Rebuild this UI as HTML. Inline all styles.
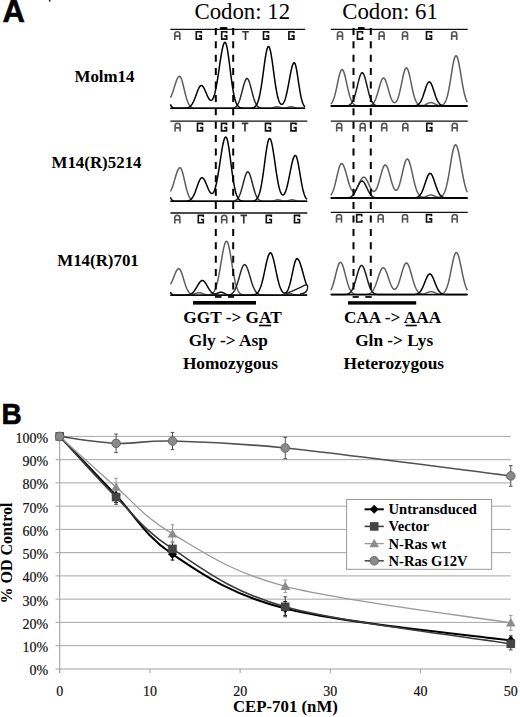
<!DOCTYPE html>
<html><head><meta charset="utf-8"><style>
html,body{margin:0;padding:0;background:#fff;}
svg{display:block;}
.bl{font-family:"Liberation Mono",monospace;font-weight:bold;font-size:10px;text-anchor:middle;}
.ax{font-family:"Liberation Serif",serif;font-size:14px;fill:#111;stroke:#111;stroke-width:0.2px;}
.axt{font-family:"Liberation Serif",serif;font-weight:bold;font-size:16.8px;fill:#000;}
.ayt{font-family:"Liberation Serif",serif;font-weight:bold;font-size:16px;fill:#000;}
.lg{font-family:"Liberation Serif",serif;font-weight:bold;font-size:14.6px;fill:#000;}
.lab2{font-family:"Liberation Serif",serif;font-weight:bold;font-size:17.3px;fill:#000;}
.lab{font-family:"Liberation Serif",serif;font-weight:bold;font-size:16.9px;fill:#000;}
.cod{font-family:"Liberation Serif",serif;font-size:22.8px;fill:#000;}
.pl{font-family:"Liberation Sans",sans-serif;font-weight:bold;font-size:30px;fill:#000;stroke:#000;stroke-width:0.6px;}
</style></head><body>
<svg width="520" height="717" viewBox="0 0 520 717">
<rect width="520" height="717" fill="#fff"/>
<text x="2.4" y="21.5" class="pl" style="font-size:31px">A</text>
<text transform="translate(1.6,423.9) scale(0.95,1)" class="pl" style="font-size:29.5px">B</text>
<circle cx="49.7" cy="0.8" r="0.9" fill="#222"/>
<text x="242.3" y="19.2" class="cod" text-anchor="middle">Codon: 12</text>
<text x="390" y="19.2" class="cod" text-anchor="middle">Codon: 61</text>
<text x="104.5" y="82.1" class="lab" text-anchor="middle">Molm14</text>
<text x="96.5" y="168.1" class="lab" text-anchor="middle">M14(R)5214</text>
<text x="98" y="265.8" class="lab" text-anchor="middle">M14(R)701</text>
<text x="232.55" y="323.3" class="lab2" text-anchor="middle">GGT -&gt; GAT</text>
<text x="228.3" y="346.2" class="lab2" text-anchor="middle">Gly -&gt; Asp</text>
<text x="230.4" y="369.0" class="lab2" text-anchor="middle">Homozygous</text>
<text x="392.5" y="323.3" class="lab2" text-anchor="middle">CAA -&gt; AAA</text>
<text x="394.2" y="346.2" class="lab2" text-anchor="middle">Gln -&gt; Lys</text>
<text x="393.8" y="369.0" class="lab2" text-anchor="middle">Heterozygous</text>
<line x1="258.8" y1="325.5" x2="271" y2="325.5" stroke="#000" stroke-width="1.6"/>
<line x1="405.5" y1="325.5" x2="416.8" y2="325.5" stroke="#000" stroke-width="1.6"/>
<line x1="170.4" y1="29.4" x2="305.2" y2="29.4" stroke="#111" stroke-width="1.3"/>
<path transform="translate(174.00,30.90)" d="M0.8,9 V3 Q0.8,0.8 3.3,0.8 Q5.8,0.8 5.8,3 V9 M0.8,5.2 H5.8" fill="none" stroke="#555" stroke-width="1.65"/>
<path transform="translate(195.50,30.90)" d="M5.8,2.4 V0.8 H0.8 V8.2 H5.8 V5 H3.4" fill="none" stroke="#111" stroke-width="1.65"/>
<path transform="translate(220.90,30.90)" d="M5.8,2.4 V0.8 H0.8 V8.2 H5.8 V5 H3.4" fill="none" stroke="#111" stroke-width="1.65"/>
<path transform="translate(242.20,30.90)" d="M0,0.8 H6.6 M3.3,0.8 V9" fill="none" stroke="#333" stroke-width="1.65"/>
<path transform="translate(262.70,30.90)" d="M5.8,2.4 V0.8 H0.8 V8.2 H5.8 V5 H3.4" fill="none" stroke="#111" stroke-width="1.65"/>
<path transform="translate(288.10,30.90)" d="M5.8,2.4 V0.8 H0.8 V8.2 H5.8 V5 H3.4" fill="none" stroke="#111" stroke-width="1.65"/>
<path d="M170.40,97.53 L170.90,96.65 L171.40,95.61 L171.90,94.42 L172.40,93.09 L172.90,91.65 L173.40,90.11 L173.90,88.52 L174.40,86.89 L174.90,85.27 L175.40,83.69 L175.90,82.18 L176.40,80.78 L176.90,79.53 L177.40,78.44 L177.90,77.56 L178.40,76.90 L178.90,76.48 L179.40,76.30 L179.90,76.42 L180.40,76.90 L180.90,77.75 L181.40,78.92 L181.90,80.37 L182.40,82.07 L182.90,83.95 L183.40,85.96 L183.90,88.05 L184.40,90.16 L184.90,92.23 L185.40,94.24 L185.90,96.14 L186.40,97.91 L186.90,99.53 L187.40,100.98 L187.90,102.26 L188.40,103.38 L188.90,104.33 L189.40,105.14 L189.90,105.82 L190.40,106.37 L190.90,106.82 L191.40,107.17 L191.90,107.45 L192.40,107.67 L192.90,107.84 L193.40,107.97 L193.90,108.06 L194.40,108.13 L194.90,108.18 L195.40,108.22 L195.90,108.24 L196.40,108.26 L196.90,108.27 L197.40,108.28 L197.90,108.29 L198.40,108.29 L198.90,108.30 L199.40,108.30 L199.90,108.30 L200.40,108.30 L200.90,108.30 L201.40,108.30 L201.90,108.30 L202.40,108.30 L202.90,108.30 L203.40,108.30 L203.90,108.30 L204.40,108.30 L204.90,108.30 L205.40,108.30 L205.90,108.30 L206.40,108.30 L206.90,108.30 L207.40,108.30 L207.90,108.30 L208.40,108.30 L208.90,108.30 L209.40,108.30 L209.90,108.30 L210.40,108.30 L210.90,108.30 L211.40,108.30 L211.90,108.30 L212.40,108.30 L212.90,108.30 L213.40,108.30 L213.90,108.30 L214.40,108.30 L214.90,108.30 L215.40,108.30 L215.90,108.30 L216.40,108.30 L216.90,108.30 L217.40,108.30 L217.90,108.30 L218.40,108.30 L218.90,108.30 L219.40,108.30 L219.90,108.30 L220.40,108.30 L220.90,108.30 L221.40,108.30 L221.90,108.30 L222.40,108.30 L222.90,108.30 L223.40,108.30 L223.90,108.30 L224.40,108.30 L224.90,108.30 L225.40,108.30 L225.90,108.30 L226.40,108.30 L226.90,108.30 L227.40,108.30 L227.90,108.30 L228.40,108.30 L228.90,108.30 L229.40,108.30 L229.90,108.30 L230.40,108.30 L230.90,108.30 L231.40,108.30 L231.90,108.30 L232.40,108.30 L232.90,108.30 L233.40,108.30 L233.90,108.30 L234.40,108.30 L234.90,108.30 L235.40,108.30 L235.90,108.30 L236.40,108.30 L236.90,108.30 L237.40,108.30 L237.90,108.30 L238.40,108.30 L238.90,108.30 L239.40,108.30 L239.90,108.30 L240.40,108.30 L240.90,108.30 L241.40,108.30 L241.90,108.30 L242.40,108.30 L242.90,108.30 L243.40,108.30 L243.90,108.30 L244.40,108.30 L244.90,108.30 L245.40,108.30 L245.90,108.30 L246.40,108.30 L246.90,108.30 L247.40,108.30 L247.90,108.30 L248.40,108.30 L248.90,108.30 L249.40,108.30 L249.90,108.30 L250.40,108.30 L250.90,108.30 L251.40,108.30 L251.90,108.30 L252.40,108.30 L252.90,108.30 L253.40,108.30 L253.90,108.30 L254.40,108.30 L254.90,108.30 L255.40,108.30 L255.90,108.30 L256.40,108.30 L256.90,108.30 L257.40,108.30 L257.90,108.30 L258.40,108.30 L258.90,108.30 L259.40,108.30 L259.90,108.30 L260.40,108.30 L260.90,108.30 L261.40,108.30 L261.90,108.30 L262.40,108.30 L262.90,108.30 L263.40,108.30 L263.90,108.30 L264.40,108.30 L264.90,108.30 L265.40,108.30 L265.90,108.30 L266.40,108.30 L266.90,108.29 L267.40,108.29 L267.90,108.28 L268.40,108.27 L268.90,108.26 L269.40,108.24 L269.90,108.20 L270.40,108.16 L270.90,108.10 L271.40,108.02 L271.90,107.92 L272.40,107.81 L272.90,107.67 L273.40,107.52 L273.90,107.36 L274.40,107.20 L274.90,107.05 L275.40,106.91 L275.90,106.80 L276.40,106.73 L276.90,106.70 L277.40,106.71 L277.90,106.77 L278.40,106.86 L278.90,106.99 L279.40,107.14 L279.90,107.30 L280.40,107.46 L280.90,107.61 L281.40,107.74 L281.90,107.86 L282.40,107.96 L282.90,108.03 L283.40,108.07 L283.90,108.09 L284.40,108.08 L284.90,108.05 L285.40,107.99 L285.90,107.90 L286.40,107.79 L286.90,107.66 L287.40,107.52 L287.90,107.36 L288.40,107.20 L288.90,107.05 L289.40,106.91 L289.90,106.80 L290.40,106.73 L290.90,106.70 L291.40,106.71 L291.90,106.77 L292.40,106.87 L292.90,106.99 L293.40,107.14 L293.90,107.30 L294.40,107.46 L294.90,107.61 L295.40,107.75 L295.90,107.88 L296.40,107.98 L296.90,108.07 L297.40,108.14 L297.90,108.19 L298.40,108.22 L298.90,108.25 L299.40,108.27 L299.90,108.28 L300.40,108.29 L300.90,108.29 L301.40,108.30 L301.90,108.30 L302.40,108.30 L302.90,108.30 L303.40,108.30 L303.90,108.30 L304.40,108.30 L304.90,108.30" fill="none" stroke="#5e5e5e" stroke-width="1.5" stroke-linejoin="round"/>
<path d="M170.40,108.30 L170.90,108.30 L171.40,108.30 L171.90,108.30 L172.40,108.30 L172.90,108.30 L173.40,108.30 L173.90,108.30 L174.40,108.30 L174.90,108.30 L175.40,108.30 L175.90,108.30 L176.40,108.30 L176.90,108.30 L177.40,108.30 L177.90,108.30 L178.40,108.30 L178.90,108.30 L179.40,108.30 L179.90,108.30 L180.40,108.30 L180.90,108.30 L181.40,108.30 L181.90,108.30 L182.40,108.30 L182.90,108.30 L183.40,108.30 L183.90,108.30 L184.40,108.30 L184.90,108.30 L185.40,108.30 L185.90,108.30 L186.40,108.30 L186.90,108.30 L187.40,108.30 L187.90,108.30 L188.40,108.30 L188.90,108.30 L189.40,108.30 L189.90,108.30 L190.40,108.30 L190.90,108.30 L191.40,108.30 L191.90,108.30 L192.40,108.30 L192.90,108.30 L193.40,108.30 L193.90,108.30 L194.40,108.30 L194.90,108.30 L195.40,108.30 L195.90,108.30 L196.40,108.30 L196.90,108.30 L197.40,108.30 L197.90,108.30 L198.40,108.30 L198.90,108.30 L199.40,108.30 L199.90,108.30 L200.40,108.30 L200.90,108.30 L201.40,108.30 L201.90,108.30 L202.40,108.30 L202.90,108.30 L203.40,108.30 L203.90,108.30 L204.40,108.30 L204.90,108.30 L205.40,108.30 L205.90,108.30 L206.40,108.30 L206.90,108.30 L207.40,108.30 L207.90,108.30 L208.40,108.30 L208.90,108.30 L209.40,108.30 L209.90,108.30 L210.40,108.30 L210.90,108.30 L211.40,108.30 L211.90,108.30 L212.40,108.30 L212.90,108.30 L213.40,108.30 L213.90,108.30 L214.40,108.30 L214.90,108.30 L215.40,108.30 L215.90,108.30 L216.40,108.30 L216.90,108.30 L217.40,108.30 L217.90,108.30 L218.40,108.30 L218.90,108.30 L219.40,108.30 L219.90,108.30 L220.40,108.30 L220.90,108.30 L221.40,108.30 L221.90,108.30 L222.40,108.30 L222.90,108.30 L223.40,108.30 L223.90,108.30 L224.40,108.30 L224.90,108.30 L225.40,108.30 L225.90,108.30 L226.40,108.30 L226.90,108.30 L227.40,108.30 L227.90,108.29 L228.40,108.29 L228.90,108.29 L229.40,108.28 L229.90,108.27 L230.40,108.26 L230.90,108.23 L231.40,108.21 L231.90,108.16 L232.40,108.11 L232.90,108.03 L233.40,107.92 L233.90,107.78 L234.40,107.60 L234.90,107.36 L235.40,107.06 L235.90,106.68 L236.40,106.21 L236.90,105.62 L237.40,104.92 L237.90,104.09 L238.40,103.11 L238.90,101.98 L239.40,100.69 L239.90,99.24 L240.40,97.65 L240.90,95.93 L241.40,94.10 L241.90,92.18 L242.40,90.23 L242.90,88.27 L243.40,86.36 L243.90,84.55 L244.40,82.90 L244.90,81.45 L245.40,80.25 L245.90,79.34 L246.40,78.75 L246.90,78.51 L247.40,78.61 L247.90,79.06 L248.40,79.85 L248.90,80.94 L249.40,82.29 L249.90,83.87 L250.40,85.62 L250.90,87.50 L251.40,89.44 L251.90,91.40 L252.40,93.34 L252.90,95.21 L253.40,96.98 L253.90,98.63 L254.40,100.13 L254.90,101.48 L255.40,102.68 L255.90,103.71 L256.40,104.61 L256.90,105.36 L257.40,105.99 L257.90,106.50 L258.40,106.92 L258.90,107.25 L259.40,107.51 L259.90,107.72 L260.40,107.87 L260.90,107.99 L261.40,108.08 L261.90,108.14 L262.40,108.19 L262.90,108.22 L263.40,108.25 L263.90,108.27 L264.40,108.28 L264.90,108.28 L265.40,108.29 L265.90,108.29 L266.40,108.30 L266.90,108.30 L267.40,108.30 L267.90,108.30 L268.40,108.30 L268.90,108.30 L269.40,108.30 L269.90,108.30 L270.40,108.30 L270.90,108.30 L271.40,108.30 L271.90,108.30 L272.40,108.30 L272.90,108.30 L273.40,108.30 L273.90,108.30 L274.40,108.30 L274.90,108.30 L275.40,108.30 L275.90,108.30 L276.40,108.30 L276.90,108.30 L277.40,108.30 L277.90,108.30 L278.40,108.30 L278.90,108.30 L279.40,108.30 L279.90,108.30 L280.40,108.30 L280.90,108.30 L281.40,108.30 L281.90,108.30 L282.40,108.30 L282.90,108.30 L283.40,108.30 L283.90,108.30 L284.40,108.30 L284.90,108.30 L285.40,108.30 L285.90,108.30 L286.40,108.30 L286.90,108.30 L287.40,108.30 L287.90,108.30 L288.40,108.30 L288.90,108.30 L289.40,108.30 L289.90,108.30 L290.40,108.30 L290.90,108.30 L291.40,108.30 L291.90,108.30 L292.40,108.30 L292.90,108.30 L293.40,108.30 L293.90,108.30 L294.40,108.30 L294.90,108.30 L295.40,108.30 L295.90,108.30 L296.40,108.30 L296.90,108.30 L297.40,108.30 L297.90,108.30 L298.40,108.30 L298.90,108.30 L299.40,108.30 L299.90,108.30 L300.40,108.30 L300.90,108.30 L301.40,108.30 L301.90,108.30 L302.40,108.30 L302.90,108.30 L303.40,108.30 L303.90,108.30 L304.40,108.30 L304.90,108.30" fill="none" stroke="#2a2a2a" stroke-width="1.5" stroke-linejoin="round"/>
<path d="M170.40,104.34 L170.90,105.41 L171.40,106.25 L171.90,106.88 L172.40,107.35 L172.90,107.68 L173.40,107.90 L173.90,108.05 L174.40,108.15 L174.90,108.21 L175.40,108.25 L175.90,108.27 L176.40,108.29 L176.90,108.29 L177.40,108.30 L177.90,108.30 L178.40,108.30 L178.90,108.30 L179.40,108.30 L179.90,108.30 L180.40,108.30 L180.90,108.29 L181.40,108.29 L181.90,108.29 L182.40,108.28 L182.90,108.27 L183.40,108.26 L183.90,108.25 L184.40,108.22 L184.90,108.19 L185.40,108.15 L185.90,108.10 L186.40,108.03 L186.90,107.94 L187.40,107.82 L187.90,107.67 L188.40,107.48 L188.90,107.25 L189.40,106.96 L189.90,106.61 L190.40,106.18 L190.90,105.68 L191.40,105.09 L191.90,104.41 L192.40,103.62 L192.90,102.74 L193.40,101.76 L193.90,100.67 L194.40,99.50 L194.90,98.25 L195.40,96.93 L195.90,95.57 L196.40,94.19 L196.90,92.82 L197.40,91.48 L197.90,90.21 L198.40,89.03 L198.90,87.98 L199.40,87.08 L199.90,86.37 L200.40,85.86 L200.90,85.56 L201.40,85.49 L201.90,85.62 L202.40,85.95 L202.90,86.47 L203.40,87.16 L203.90,88.00 L204.40,88.96 L204.90,90.03 L205.40,91.18 L205.90,92.36 L206.40,93.56 L206.90,94.75 L207.40,95.88 L207.90,96.94 L208.40,97.91 L208.90,98.74 L209.40,99.44 L209.90,99.96 L210.40,100.30 L210.90,100.44 L211.40,100.37 L211.90,100.06 L212.40,99.52 L212.90,98.73 L213.40,97.68 L213.90,96.38 L214.40,94.80 L214.90,92.96 L215.40,90.86 L215.90,88.51 L216.40,85.92 L216.90,83.11 L217.40,80.10 L217.90,76.93 L218.40,73.63 L218.90,70.25 L219.40,66.82 L219.90,63.41 L220.40,60.08 L220.90,56.87 L221.40,53.85 L221.90,51.07 L222.40,48.60 L222.90,46.48 L223.40,44.76 L223.90,43.47 L224.40,42.65 L224.90,42.31 L225.40,42.51 L225.90,43.36 L226.40,44.84 L226.90,46.90 L227.40,49.48 L227.90,52.52 L228.40,55.92 L228.90,59.61 L229.40,63.49 L229.90,67.47 L230.40,71.46 L230.90,75.40 L231.40,79.21 L231.90,82.83 L232.40,86.22 L232.90,89.36 L233.40,92.21 L233.90,94.76 L234.40,97.03 L234.90,99.01 L235.40,100.71 L235.90,102.17 L236.40,103.39 L236.90,104.41 L237.40,105.25 L237.90,105.93 L238.40,106.48 L238.90,106.92 L239.40,107.26 L239.90,107.52 L240.40,107.73 L240.90,107.88 L241.40,108.00 L241.90,108.08 L242.40,108.15 L242.90,108.19 L243.40,108.22 L243.90,108.25 L244.40,108.26 L244.90,108.28 L245.40,108.28 L245.90,108.29 L246.40,108.29 L246.90,108.29 L247.40,108.29 L247.90,108.29 L248.40,108.28 L248.90,108.27 L249.40,108.26 L249.90,108.24 L250.40,108.21 L250.90,108.17 L251.40,108.12 L251.90,108.05 L252.40,107.95 L252.90,107.82 L253.40,107.65 L253.90,107.43 L254.40,107.14 L254.90,106.77 L255.40,106.30 L255.90,105.72 L256.40,104.99 L256.90,104.11 L257.40,103.04 L257.90,101.77 L258.40,100.27 L258.90,98.52 L259.40,96.50 L259.90,94.22 L260.40,91.66 L260.90,88.83 L261.40,85.75 L261.90,82.44 L262.40,78.94 L262.90,75.29 L263.40,71.57 L263.90,67.82 L264.40,64.15 L264.90,60.61 L265.40,57.31 L265.90,54.32 L266.40,51.72 L266.90,49.58 L267.40,47.98 L267.90,46.94 L268.40,46.51 L268.90,46.70 L269.40,47.49 L269.90,48.88 L270.40,50.80 L270.90,53.22 L271.40,56.07 L271.90,59.25 L272.40,62.71 L272.90,66.34 L273.40,70.06 L273.90,73.80 L274.40,77.48 L274.90,81.03 L275.40,84.41 L275.90,87.57 L276.40,90.48 L276.90,93.12 L277.40,95.46 L277.90,97.52 L278.40,99.29 L278.90,100.77 L279.40,101.99 L279.90,102.94 L280.40,103.65 L280.90,104.12 L281.40,104.36 L281.90,104.38 L282.40,104.19 L282.90,103.78 L283.40,103.15 L283.90,102.30 L284.40,101.23 L284.90,99.93 L285.40,98.41 L285.90,96.66 L286.40,94.69 L286.90,92.52 L287.40,90.17 L287.90,87.65 L288.40,85.01 L288.90,82.28 L289.40,79.53 L289.90,76.79 L290.40,74.13 L290.90,71.62 L291.40,69.32 L291.90,67.28 L292.40,65.56 L292.90,64.22 L293.40,63.28 L293.90,62.78 L294.40,62.75 L294.90,63.36 L295.40,64.61 L295.90,66.46 L296.40,68.81 L296.90,71.59 L297.40,74.67 L297.90,77.95 L298.40,81.32 L298.90,84.66 L299.40,87.90 L299.90,90.95 L300.40,93.77 L300.90,96.30 L301.40,98.54 L301.90,100.48 L302.40,102.13 L302.90,103.50 L303.40,104.62 L303.90,105.52 L304.40,106.23 L304.90,106.79" fill="none" stroke="#000" stroke-width="1.5" stroke-linejoin="round"/>
<line x1="170.4" y1="108.3" x2="305.2" y2="108.3" stroke="#000" stroke-width="1.3"/>
<line x1="170.4" y1="121.1" x2="307.3" y2="121.1" stroke="#111" stroke-width="1.3"/>
<path transform="translate(174.30,122.60)" d="M0.8,9 V3 Q0.8,0.8 3.3,0.8 Q5.8,0.8 5.8,3 V9 M0.8,5.2 H5.8" fill="none" stroke="#555" stroke-width="1.65"/>
<path transform="translate(196.70,122.60)" d="M5.8,2.4 V0.8 H0.8 V8.2 H5.8 V5 H3.4" fill="none" stroke="#111" stroke-width="1.65"/>
<path transform="translate(220.70,122.60)" d="M5.8,2.4 V0.8 H0.8 V8.2 H5.8 V5 H3.4" fill="none" stroke="#111" stroke-width="1.65"/>
<path transform="translate(241.70,122.60)" d="M0,0.8 H6.6 M3.3,0.8 V9" fill="none" stroke="#333" stroke-width="1.65"/>
<path transform="translate(264.70,122.60)" d="M5.8,2.4 V0.8 H0.8 V8.2 H5.8 V5 H3.4" fill="none" stroke="#111" stroke-width="1.65"/>
<path transform="translate(290.20,122.60)" d="M5.8,2.4 V0.8 H0.8 V8.2 H5.8 V5 H3.4" fill="none" stroke="#111" stroke-width="1.65"/>
<path d="M170.40,191.35 L170.90,190.52 L171.40,189.52 L171.90,188.36 L172.40,187.04 L172.90,185.59 L173.40,184.02 L173.90,182.36 L174.40,180.65 L174.90,178.91 L175.40,177.18 L175.90,175.50 L176.40,173.91 L176.90,172.43 L177.40,171.10 L177.90,169.96 L178.40,169.03 L178.90,168.33 L179.40,167.89 L179.90,167.70 L180.40,167.83 L180.90,168.34 L181.40,169.22 L181.90,170.45 L182.40,171.98 L182.90,173.76 L183.40,175.73 L183.90,177.84 L184.40,180.04 L184.90,182.25 L185.40,184.43 L185.90,186.54 L186.40,188.54 L186.90,190.39 L187.40,192.09 L187.90,193.61 L188.40,194.96 L188.90,196.13 L189.40,197.14 L189.90,197.98 L190.40,198.69 L190.90,199.27 L191.40,199.74 L191.90,200.12 L192.40,200.41 L192.90,200.64 L193.40,200.82 L193.90,200.95 L194.40,201.05 L194.90,201.12 L195.40,201.18 L195.90,201.21 L196.40,201.24 L196.90,201.26 L197.40,201.27 L197.90,201.28 L198.40,201.29 L198.90,201.29 L199.40,201.30 L199.90,201.30 L200.40,201.30 L200.90,201.30 L201.40,201.30 L201.90,201.30 L202.40,201.30 L202.90,201.30 L203.40,201.30 L203.90,201.30 L204.40,201.30 L204.90,201.30 L205.40,201.30 L205.90,201.30 L206.40,201.30 L206.90,201.30 L207.40,201.30 L207.90,201.30 L208.40,201.30 L208.90,201.30 L209.40,201.30 L209.90,201.30 L210.40,201.30 L210.90,201.30 L211.40,201.30 L211.90,201.30 L212.40,201.30 L212.90,201.30 L213.40,201.30 L213.90,201.30 L214.40,201.30 L214.90,201.30 L215.40,201.30 L215.90,201.30 L216.40,201.30 L216.90,201.30 L217.40,201.30 L217.90,201.30 L218.40,201.30 L218.90,201.30 L219.40,201.30 L219.90,201.30 L220.40,201.30 L220.90,201.30 L221.40,201.30 L221.90,201.30 L222.40,201.30 L222.90,201.30 L223.40,201.30 L223.90,201.30 L224.40,201.30 L224.90,201.30 L225.40,201.30 L225.90,201.30 L226.40,201.30 L226.90,201.30 L227.40,201.30 L227.90,201.30 L228.40,201.30 L228.90,201.30 L229.40,201.30 L229.90,201.30 L230.40,201.30 L230.90,201.30 L231.40,201.30 L231.90,201.30 L232.40,201.30 L232.90,201.30 L233.40,201.30 L233.90,201.30 L234.40,201.30 L234.90,201.30 L235.40,201.30 L235.90,201.30 L236.40,201.30 L236.90,201.30 L237.40,201.30 L237.90,201.30 L238.40,201.30 L238.90,201.30 L239.40,201.30 L239.90,201.30 L240.40,201.30 L240.90,201.30 L241.40,201.30 L241.90,201.30 L242.40,201.30 L242.90,201.30 L243.40,201.30 L243.90,201.30 L244.40,201.30 L244.90,201.30 L245.40,201.30 L245.90,201.30 L246.40,201.30 L246.90,201.30 L247.40,201.30 L247.90,201.30 L248.40,201.30 L248.90,201.30 L249.40,201.30 L249.90,201.30 L250.40,201.30 L250.90,201.30 L251.40,201.30 L251.90,201.30 L252.40,201.30 L252.90,201.30 L253.40,201.30 L253.90,201.30 L254.40,201.30 L254.90,201.30 L255.40,201.30 L255.90,201.30 L256.40,201.30 L256.90,201.30 L257.40,201.30 L257.90,201.30 L258.40,201.30 L258.90,201.30 L259.40,201.30 L259.90,201.30 L260.40,201.30 L260.90,201.30 L261.40,201.30 L261.90,201.30 L262.40,201.30 L262.90,201.30 L263.40,201.30 L263.90,201.30 L264.40,201.30 L264.90,201.30 L265.40,201.30 L265.90,201.30 L266.40,201.30 L266.90,201.30 L267.40,201.30 L267.90,201.29 L268.40,201.29 L268.90,201.28 L269.40,201.28 L269.90,201.26 L270.40,201.24 L270.90,201.21 L271.40,201.17 L271.90,201.11 L272.40,201.04 L272.90,200.95 L273.40,200.84 L273.90,200.71 L274.40,200.57 L274.90,200.42 L275.40,200.27 L275.90,200.13 L276.40,200.00 L276.90,199.90 L277.40,199.83 L277.90,199.80 L278.40,199.81 L278.90,199.87 L279.40,199.95 L279.90,200.07 L280.40,200.21 L280.90,200.36 L281.40,200.51 L281.90,200.65 L282.40,200.78 L282.90,200.89 L283.40,200.98 L283.90,201.04 L284.40,201.09 L284.90,201.10 L285.40,201.10 L285.90,201.06 L286.40,201.01 L286.90,200.93 L287.40,200.83 L287.90,200.70 L288.40,200.57 L288.90,200.42 L289.40,200.27 L289.90,200.13 L290.40,200.00 L290.90,199.90 L291.40,199.83 L291.90,199.80 L292.40,199.81 L292.90,199.87 L293.40,199.95 L293.90,200.07 L294.40,200.21 L294.90,200.36 L295.40,200.51 L295.90,200.66 L296.40,200.79 L296.90,200.90 L297.40,201.00 L297.90,201.08 L298.40,201.15 L298.90,201.19 L299.40,201.23 L299.90,201.25 L300.40,201.27 L300.90,201.28 L301.40,201.29 L301.90,201.29 L302.40,201.30 L302.90,201.30 L303.40,201.30 L303.90,201.30 L304.40,201.30 L304.90,201.30 L305.40,201.30 L305.90,201.30 L306.40,201.30 L306.90,201.30" fill="none" stroke="#5e5e5e" stroke-width="1.5" stroke-linejoin="round"/>
<path d="M170.40,201.30 L170.90,201.30 L171.40,201.30 L171.90,201.30 L172.40,201.30 L172.90,201.30 L173.40,201.30 L173.90,201.30 L174.40,201.30 L174.90,201.30 L175.40,201.30 L175.90,201.30 L176.40,201.30 L176.90,201.30 L177.40,201.30 L177.90,201.30 L178.40,201.30 L178.90,201.30 L179.40,201.30 L179.90,201.30 L180.40,201.30 L180.90,201.30 L181.40,201.30 L181.90,201.30 L182.40,201.30 L182.90,201.30 L183.40,201.30 L183.90,201.30 L184.40,201.30 L184.90,201.30 L185.40,201.30 L185.90,201.30 L186.40,201.30 L186.90,201.30 L187.40,201.30 L187.90,201.30 L188.40,201.30 L188.90,201.30 L189.40,201.30 L189.90,201.30 L190.40,201.30 L190.90,201.30 L191.40,201.30 L191.90,201.30 L192.40,201.30 L192.90,201.30 L193.40,201.30 L193.90,201.30 L194.40,201.30 L194.90,201.30 L195.40,201.30 L195.90,201.30 L196.40,201.30 L196.90,201.30 L197.40,201.30 L197.90,201.30 L198.40,201.30 L198.90,201.30 L199.40,201.30 L199.90,201.30 L200.40,201.30 L200.90,201.30 L201.40,201.30 L201.90,201.30 L202.40,201.30 L202.90,201.30 L203.40,201.30 L203.90,201.30 L204.40,201.30 L204.90,201.30 L205.40,201.30 L205.90,201.30 L206.40,201.30 L206.90,201.30 L207.40,201.30 L207.90,201.30 L208.40,201.30 L208.90,201.30 L209.40,201.30 L209.90,201.30 L210.40,201.30 L210.90,201.30 L211.40,201.30 L211.90,201.30 L212.40,201.30 L212.90,201.30 L213.40,201.30 L213.90,201.30 L214.40,201.30 L214.90,201.30 L215.40,201.30 L215.90,201.30 L216.40,201.30 L216.90,201.30 L217.40,201.30 L217.90,201.30 L218.40,201.30 L218.90,201.30 L219.40,201.30 L219.90,201.30 L220.40,201.30 L220.90,201.30 L221.40,201.30 L221.90,201.30 L222.40,201.30 L222.90,201.30 L223.40,201.30 L223.90,201.30 L224.40,201.30 L224.90,201.30 L225.40,201.30 L225.90,201.30 L226.40,201.30 L226.90,201.30 L227.40,201.30 L227.90,201.30 L228.40,201.30 L228.90,201.29 L229.40,201.29 L229.90,201.28 L230.40,201.28 L230.90,201.27 L231.40,201.25 L231.90,201.22 L232.40,201.19 L232.90,201.14 L233.40,201.08 L233.90,200.99 L234.40,200.88 L234.90,200.72 L235.40,200.52 L235.90,200.26 L236.40,199.93 L236.90,199.52 L237.40,199.01 L237.90,198.39 L238.40,197.64 L238.90,196.76 L239.40,195.73 L239.90,194.55 L240.40,193.21 L240.90,191.72 L241.40,190.09 L241.90,188.34 L242.40,186.49 L242.90,184.57 L243.40,182.63 L243.90,180.71 L244.40,178.85 L244.90,177.12 L245.40,175.55 L245.90,174.21 L246.40,173.14 L246.90,172.36 L247.40,171.91 L247.90,171.81 L248.40,172.05 L248.90,172.63 L249.40,173.53 L249.90,174.72 L250.40,176.16 L250.90,177.79 L251.40,179.58 L251.90,181.47 L252.40,183.41 L252.90,185.34 L253.40,187.24 L253.90,189.05 L254.40,190.76 L254.90,192.34 L255.40,193.77 L255.90,195.04 L256.40,196.16 L256.90,197.13 L257.40,197.96 L257.90,198.65 L258.40,199.23 L258.90,199.70 L259.40,200.07 L259.90,200.37 L260.40,200.61 L260.90,200.79 L261.40,200.93 L261.90,201.03 L262.40,201.11 L262.90,201.17 L263.40,201.21 L263.90,201.24 L264.40,201.26 L264.90,201.27 L265.40,201.28 L265.90,201.29 L266.40,201.29 L266.90,201.29 L267.40,201.30 L267.90,201.30 L268.40,201.30 L268.90,201.30 L269.40,201.30 L269.90,201.30 L270.40,201.30 L270.90,201.30 L271.40,201.30 L271.90,201.30 L272.40,201.30 L272.90,201.30 L273.40,201.30 L273.90,201.30 L274.40,201.30 L274.90,201.30 L275.40,201.30 L275.90,201.30 L276.40,201.30 L276.90,201.30 L277.40,201.30 L277.90,201.30 L278.40,201.30 L278.90,201.30 L279.40,201.30 L279.90,201.30 L280.40,201.30 L280.90,201.30 L281.40,201.30 L281.90,201.30 L282.40,201.30 L282.90,201.30 L283.40,201.30 L283.90,201.30 L284.40,201.30 L284.90,201.30 L285.40,201.30 L285.90,201.30 L286.40,201.30 L286.90,201.30 L287.40,201.30 L287.90,201.30 L288.40,201.30 L288.90,201.30 L289.40,201.30 L289.90,201.30 L290.40,201.30 L290.90,201.30 L291.40,201.30 L291.90,201.30 L292.40,201.30 L292.90,201.30 L293.40,201.30 L293.90,201.30 L294.40,201.30 L294.90,201.30 L295.40,201.30 L295.90,201.30 L296.40,201.30 L296.90,201.30 L297.40,201.30 L297.90,201.30 L298.40,201.30 L298.90,201.30 L299.40,201.30 L299.90,201.30 L300.40,201.30 L300.90,201.30 L301.40,201.30 L301.90,201.30 L302.40,201.30 L302.90,201.30 L303.40,201.30 L303.90,201.30 L304.40,201.30 L304.90,201.30 L305.40,201.30 L305.90,201.30 L306.40,201.30 L306.90,201.30" fill="none" stroke="#2a2a2a" stroke-width="1.5" stroke-linejoin="round"/>
<path d="M170.40,197.34 L170.90,198.41 L171.40,199.25 L171.90,199.88 L172.40,200.35 L172.90,200.68 L173.40,200.90 L173.90,201.05 L174.40,201.15 L174.90,201.21 L175.40,201.25 L175.90,201.27 L176.40,201.29 L176.90,201.29 L177.40,201.30 L177.90,201.30 L178.40,201.30 L178.90,201.30 L179.40,201.30 L179.90,201.30 L180.40,201.30 L180.90,201.30 L181.40,201.30 L181.90,201.29 L182.40,201.29 L182.90,201.28 L183.40,201.28 L183.90,201.27 L184.40,201.25 L184.90,201.23 L185.40,201.20 L185.90,201.17 L186.40,201.12 L186.90,201.05 L187.40,200.97 L187.90,200.86 L188.40,200.72 L188.90,200.54 L189.40,200.31 L189.90,200.04 L190.40,199.70 L190.90,199.29 L191.40,198.81 L191.90,198.23 L192.40,197.56 L192.90,196.80 L193.40,195.92 L193.90,194.95 L194.40,193.87 L194.90,192.69 L195.40,191.42 L195.90,190.09 L196.40,188.70 L196.90,187.27 L197.40,185.84 L197.90,184.44 L198.40,183.09 L198.90,181.83 L199.40,180.68 L199.90,179.69 L200.40,178.87 L200.90,178.26 L201.40,177.86 L201.90,177.69 L202.40,177.75 L202.90,178.01 L203.40,178.47 L203.90,179.12 L204.40,179.93 L204.90,180.88 L205.40,181.96 L205.90,183.12 L206.40,184.34 L206.90,185.59 L207.40,186.84 L207.90,188.05 L208.40,189.20 L208.90,190.27 L209.40,191.22 L209.90,192.03 L210.40,192.68 L210.90,193.17 L211.40,193.45 L211.90,193.54 L212.40,193.40 L212.90,193.03 L213.40,192.42 L213.90,191.57 L214.40,190.45 L214.90,189.08 L215.40,187.45 L215.90,185.56 L216.40,183.42 L216.90,181.04 L217.40,178.42 L217.90,175.61 L218.40,172.61 L218.90,169.47 L219.40,166.21 L219.90,162.89 L220.40,159.56 L220.90,156.26 L221.40,153.05 L221.90,149.99 L222.40,147.14 L222.90,144.55 L223.40,142.27 L223.90,140.35 L224.40,138.84 L224.90,137.77 L225.40,137.15 L225.90,137.01 L226.40,137.46 L226.90,138.54 L227.40,140.21 L227.90,142.43 L228.40,145.13 L228.90,148.24 L229.40,151.68 L229.90,155.36 L230.40,159.19 L230.90,163.08 L231.40,166.96 L231.90,170.75 L232.40,174.39 L232.90,177.84 L233.40,181.05 L233.90,183.99 L234.40,186.65 L234.90,189.03 L235.40,191.12 L235.90,192.94 L236.40,194.50 L236.90,195.83 L237.40,196.94 L237.90,197.86 L238.40,198.61 L238.90,199.22 L239.40,199.71 L239.90,200.09 L240.40,200.39 L240.90,200.63 L241.40,200.81 L241.90,200.94 L242.40,201.04 L242.90,201.11 L243.40,201.17 L243.90,201.21 L244.40,201.24 L244.90,201.26 L245.40,201.27 L245.90,201.28 L246.40,201.29 L246.90,201.29 L247.40,201.29 L247.90,201.29 L248.40,201.29 L248.90,201.29 L249.40,201.28 L249.90,201.27 L250.40,201.26 L250.90,201.24 L251.40,201.22 L251.90,201.18 L252.40,201.13 L252.90,201.06 L253.40,200.97 L253.90,200.85 L254.40,200.68 L254.90,200.47 L255.40,200.19 L255.90,199.83 L256.40,199.37 L256.90,198.81 L257.40,198.10 L257.90,197.24 L258.40,196.19 L258.90,194.94 L259.40,193.46 L259.90,191.73 L260.40,189.74 L260.90,187.48 L261.40,184.93 L261.90,182.11 L262.40,179.03 L262.90,175.71 L263.40,172.19 L263.90,168.51 L264.40,164.73 L264.90,160.93 L265.40,157.17 L265.90,153.54 L266.40,150.13 L266.90,147.02 L267.40,144.29 L267.90,142.03 L268.40,140.28 L268.90,139.11 L269.40,138.55 L269.90,138.60 L270.40,139.18 L270.90,140.29 L271.40,141.89 L271.90,143.94 L272.40,146.39 L272.90,149.19 L273.40,152.26 L273.90,155.54 L274.40,158.97 L274.90,162.47 L275.40,165.97 L275.90,169.43 L276.40,172.78 L276.90,175.98 L277.40,178.99 L277.90,181.77 L278.40,184.31 L278.90,186.59 L279.40,188.60 L279.90,190.33 L280.40,191.78 L280.90,192.96 L281.40,193.86 L281.90,194.50 L282.40,194.87 L282.90,194.99 L283.40,194.85 L283.90,194.47 L284.40,193.85 L284.90,192.98 L285.40,191.88 L285.90,190.55 L286.40,189.00 L286.90,187.24 L287.40,185.28 L287.90,183.15 L288.40,180.86 L288.90,178.45 L289.40,175.96 L289.90,173.41 L290.40,170.85 L290.90,168.34 L291.40,165.92 L291.90,163.64 L292.40,161.56 L292.90,159.71 L293.40,158.15 L293.90,156.91 L294.40,156.03 L294.90,155.52 L295.40,155.41 L295.90,155.79 L296.40,156.69 L296.90,158.09 L297.40,159.94 L297.90,162.18 L298.40,164.72 L298.90,167.51 L299.40,170.45 L299.90,173.46 L300.40,176.47 L300.90,179.42 L301.40,182.25 L301.90,184.90 L302.40,187.35 L302.90,189.58 L303.40,191.56 L303.90,193.30 L304.40,194.81 L304.90,196.10 L305.40,197.18 L305.90,198.07 L306.40,198.80 L306.90,199.39" fill="none" stroke="#000" stroke-width="1.5" stroke-linejoin="round"/>
<line x1="170.4" y1="201.3" x2="307.3" y2="201.3" stroke="#000" stroke-width="1.3"/>
<line x1="170.4" y1="213.0" x2="307.3" y2="213.0" stroke="#111" stroke-width="1.3"/>
<path transform="translate(174.00,214.50)" d="M0.8,9 V3 Q0.8,0.8 3.3,0.8 Q5.8,0.8 5.8,3 V9 M0.8,5.2 H5.8" fill="none" stroke="#555" stroke-width="1.65"/>
<path transform="translate(197.50,214.50)" d="M5.8,2.4 V0.8 H0.8 V8.2 H5.8 V5 H3.4" fill="none" stroke="#111" stroke-width="1.65"/>
<path transform="translate(220.90,214.50)" d="M0.8,9 V3 Q0.8,0.8 3.3,0.8 Q5.8,0.8 5.8,3 V9 M0.8,5.2 H5.8" fill="none" stroke="#555" stroke-width="1.65"/>
<path transform="translate(240.50,214.50)" d="M0,0.8 H6.6 M3.3,0.8 V9" fill="none" stroke="#333" stroke-width="1.65"/>
<path transform="translate(265.50,214.50)" d="M5.8,2.4 V0.8 H0.8 V8.2 H5.8 V5 H3.4" fill="none" stroke="#111" stroke-width="1.65"/>
<path transform="translate(293.70,214.50)" d="M5.8,2.4 V0.8 H0.8 V8.2 H5.8 V5 H3.4" fill="none" stroke="#111" stroke-width="1.65"/>
<path d="M170.40,284.37 L170.90,283.60 L171.40,282.69 L171.90,281.66 L172.40,280.53 L172.90,279.31 L173.40,278.05 L173.90,276.75 L174.40,275.47 L174.90,274.21 L175.40,273.02 L175.90,271.93 L176.40,270.96 L176.90,270.14 L177.40,269.49 L177.90,269.02 L178.40,268.76 L178.90,268.70 L179.40,268.90 L179.90,269.38 L180.40,270.13 L180.90,271.12 L181.40,272.32 L181.90,273.69 L182.40,275.20 L182.90,276.80 L183.40,278.46 L183.90,280.13 L184.40,281.78 L184.90,283.38 L185.40,284.90 L185.90,286.31 L186.40,287.62 L186.90,288.79 L187.40,289.84 L187.90,290.75 L188.40,291.54 L188.90,292.20 L189.40,292.75 L189.90,293.18 L190.40,293.52 L190.90,293.77 L191.40,293.94 L191.90,294.04 L192.40,294.08 L192.90,294.06 L193.40,294.00 L193.90,293.90 L194.40,293.77 L194.90,293.63 L195.40,293.47 L195.90,293.30 L196.40,293.14 L196.90,293.00 L197.40,292.88 L197.90,292.78 L198.40,292.72 L198.90,292.70 L199.40,292.71 L199.90,292.76 L200.40,292.85 L200.90,292.97 L201.40,293.11 L201.90,293.28 L202.40,293.46 L202.90,293.64 L203.40,293.83 L203.90,294.01 L204.40,294.18 L204.90,294.34 L205.40,294.48 L205.90,294.60 L206.40,294.70 L206.90,294.77 L207.40,294.82 L207.90,294.85 L208.40,294.85 L208.90,294.82 L209.40,294.76 L209.90,294.66 L210.40,294.52 L210.90,294.34 L211.40,294.10 L211.90,293.79 L212.40,293.40 L212.90,292.93 L213.40,292.35 L213.90,291.65 L214.40,290.81 L214.90,289.82 L215.40,288.67 L215.90,287.34 L216.40,285.81 L216.90,284.08 L217.40,282.15 L217.90,280.01 L218.40,277.67 L218.90,275.14 L219.40,272.45 L219.90,269.61 L220.40,266.67 L220.90,263.66 L221.40,260.63 L221.90,257.63 L222.40,254.72 L222.90,251.96 L223.40,249.40 L223.90,247.11 L224.40,245.13 L224.90,243.52 L225.40,242.31 L225.90,241.53 L226.40,241.21 L226.90,241.36 L227.40,242.00 L227.90,243.12 L228.40,244.69 L228.90,246.66 L229.40,248.98 L229.90,251.59 L230.40,254.44 L230.90,257.45 L231.40,260.56 L231.90,263.71 L232.40,266.83 L232.90,269.88 L233.40,272.81 L233.90,275.58 L234.40,278.17 L234.90,280.55 L235.40,282.72 L235.90,284.66 L236.40,286.38 L236.90,287.89 L237.40,289.20 L237.90,290.32 L238.40,291.26 L238.90,292.06 L239.40,292.71 L239.90,293.25 L240.40,293.68 L240.90,294.03 L241.40,294.31 L241.90,294.53 L242.40,294.70 L242.90,294.83 L243.40,294.93 L243.90,295.00 L244.40,295.06 L244.90,295.10 L245.40,295.13 L245.90,295.15 L246.40,295.16 L246.90,295.18 L247.40,295.18 L247.90,295.19 L248.40,295.19 L248.90,295.19 L249.40,295.20 L249.90,295.20 L250.40,295.20 L250.90,295.20 L251.40,295.20 L251.90,295.20 L252.40,295.20 L252.90,295.20 L253.40,295.20 L253.90,295.20 L254.40,295.20 L254.90,295.20 L255.40,295.20 L255.90,295.20 L256.40,295.20 L256.90,295.20 L257.40,295.20 L257.90,295.20 L258.40,295.20 L258.90,295.20 L259.40,295.20 L259.90,295.20 L260.40,295.20 L260.90,295.20 L261.40,295.20 L261.90,295.20 L262.40,295.20 L262.90,295.20 L263.40,295.20 L263.90,295.20 L264.40,295.20 L264.90,295.20 L265.40,295.20 L265.90,295.20 L266.40,295.20 L266.90,295.20 L267.40,295.20 L267.90,295.20 L268.40,295.20 L268.90,295.20 L269.40,295.20 L269.90,295.20 L270.40,295.20 L270.90,295.20 L271.40,295.20 L271.90,295.20 L272.40,295.20 L272.90,295.20 L273.40,295.20 L273.90,295.20 L274.40,295.20 L274.90,295.20 L275.40,295.20 L275.90,295.20 L276.40,295.20 L276.90,295.20 L277.40,295.20 L277.90,295.20 L278.40,295.20 L278.90,295.20 L279.40,295.20 L279.90,295.19 L280.40,295.19 L280.90,295.18 L281.40,295.18 L281.90,295.16 L282.40,295.14 L282.90,295.11 L283.40,295.07 L283.90,295.01 L284.40,294.94 L284.90,294.85 L285.40,294.74 L285.90,294.61 L286.40,294.47 L286.90,294.32 L287.40,294.17 L287.90,294.03 L288.40,293.90 L288.90,293.80 L289.40,293.73 L289.90,293.70 L290.40,293.71 L290.90,293.77 L291.40,293.85 L291.90,293.97 L292.40,294.11 L292.90,294.26 L293.40,294.41 L293.90,294.56 L294.40,294.69 L294.90,294.80 L295.40,294.90 L295.90,294.98 L296.40,295.05 L296.90,295.09 L297.40,295.13 L297.90,295.15 L298.40,295.17 L298.90,295.18 L299.40,295.19 L299.90,295.19 L300.40,295.20 L300.90,295.20 L301.40,295.20 L301.90,295.20 L302.40,295.20 L302.90,295.20 L303.40,295.20 L303.90,295.20 L304.40,295.20 L304.90,295.20 L305.40,295.20 L305.90,295.20 L306.40,295.20 L306.90,295.20" fill="none" stroke="#5e5e5e" stroke-width="1.5" stroke-linejoin="round"/>
<path d="M170.40,295.20 L170.90,295.20 L171.40,295.20 L171.90,295.20 L172.40,295.20 L172.90,295.20 L173.40,295.20 L173.90,295.20 L174.40,295.20 L174.90,295.20 L175.40,295.20 L175.90,295.20 L176.40,295.20 L176.90,295.20 L177.40,295.20 L177.90,295.20 L178.40,295.20 L178.90,295.20 L179.40,295.20 L179.90,295.20 L180.40,295.20 L180.90,295.20 L181.40,295.20 L181.90,295.20 L182.40,295.20 L182.90,295.20 L183.40,295.20 L183.90,295.20 L184.40,295.20 L184.90,295.20 L185.40,295.20 L185.90,295.20 L186.40,295.20 L186.90,295.20 L187.40,295.20 L187.90,295.20 L188.40,295.20 L188.90,295.20 L189.40,295.20 L189.90,295.20 L190.40,295.20 L190.90,295.20 L191.40,295.20 L191.90,295.20 L192.40,295.20 L192.90,295.20 L193.40,295.20 L193.90,295.20 L194.40,295.20 L194.90,295.20 L195.40,295.20 L195.90,295.20 L196.40,295.20 L196.90,295.20 L197.40,295.20 L197.90,295.20 L198.40,295.20 L198.90,295.20 L199.40,295.20 L199.90,295.20 L200.40,295.20 L200.90,295.20 L201.40,295.20 L201.90,295.20 L202.40,295.20 L202.90,295.20 L203.40,295.20 L203.90,295.20 L204.40,295.20 L204.90,295.20 L205.40,295.20 L205.90,295.20 L206.40,295.20 L206.90,295.20 L207.40,295.20 L207.90,295.20 L208.40,295.20 L208.90,295.20 L209.40,295.20 L209.90,295.20 L210.40,295.20 L210.90,295.20 L211.40,295.20 L211.90,295.20 L212.40,295.20 L212.90,295.20 L213.40,295.20 L213.90,295.20 L214.40,295.20 L214.90,295.20 L215.40,295.20 L215.90,295.20 L216.40,295.20 L216.90,295.20 L217.40,295.20 L217.90,295.20 L218.40,295.20 L218.90,295.20 L219.40,295.20 L219.90,295.20 L220.40,295.20 L220.90,295.20 L221.40,295.20 L221.90,295.20 L222.40,295.20 L222.90,295.19 L223.40,295.19 L223.90,295.19 L224.40,295.18 L224.90,295.18 L225.40,295.17 L225.90,295.15 L226.40,295.13 L226.90,295.11 L227.40,295.07 L227.90,295.02 L228.40,294.96 L228.90,294.88 L229.40,294.77 L229.90,294.64 L230.40,294.46 L230.90,294.25 L231.40,293.98 L231.90,293.65 L232.40,293.25 L232.90,292.77 L233.40,292.19 L233.90,291.52 L234.40,290.73 L234.90,289.83 L235.40,288.80 L235.90,287.65 L236.40,286.37 L236.90,284.98 L237.40,283.47 L237.90,281.86 L238.40,280.17 L238.90,278.42 L239.40,276.64 L239.90,274.86 L240.40,273.12 L240.90,271.44 L241.40,269.88 L241.90,268.46 L242.40,267.22 L242.90,266.19 L243.40,265.40 L243.90,264.88 L244.40,264.62 L244.90,264.65 L245.40,264.93 L245.90,265.47 L246.40,266.25 L246.90,267.25 L247.40,268.45 L247.90,269.81 L248.40,271.31 L248.90,272.91 L249.40,274.59 L249.90,276.30 L250.40,278.01 L250.90,279.71 L251.40,281.35 L251.90,282.93 L252.40,284.42 L252.90,285.81 L253.40,287.09 L253.90,288.26 L254.40,289.30 L254.90,290.24 L255.40,291.06 L255.90,291.77 L256.40,292.39 L256.90,292.91 L257.40,293.36 L257.90,293.73 L258.40,294.03 L258.90,294.28 L259.40,294.48 L259.90,294.65 L260.40,294.78 L260.90,294.88 L261.40,294.96 L261.90,295.02 L262.40,295.07 L262.90,295.10 L263.40,295.13 L263.90,295.15 L264.40,295.16 L264.90,295.17 L265.40,295.18 L265.90,295.19 L266.40,295.19 L266.90,295.19 L267.40,295.20 L267.90,295.20 L268.40,295.20 L268.90,295.20 L269.40,295.20 L269.90,295.20 L270.40,295.20 L270.90,295.20 L271.40,295.20 L271.90,295.20 L272.40,295.20 L272.90,295.20 L273.40,295.20 L273.90,295.20 L274.40,295.20 L274.90,295.20 L275.40,295.20 L275.90,295.20 L276.40,295.20 L276.90,295.20 L277.40,295.20 L277.90,295.20 L278.40,295.20 L278.90,295.20 L279.40,295.20 L279.90,295.20 L280.40,295.20 L280.90,295.20 L281.40,295.20 L281.90,295.20 L282.40,295.20 L282.90,295.20 L283.40,295.20 L283.90,295.20 L284.40,295.20 L284.90,295.20 L285.40,295.20 L285.90,295.20 L286.40,295.20 L286.90,295.20 L287.40,295.20 L287.90,295.20 L288.40,295.20 L288.90,295.20 L289.40,295.20 L289.90,295.20 L290.40,295.20 L290.90,295.20 L291.40,295.20 L291.90,295.20 L292.40,295.20 L292.90,295.20 L293.40,295.20 L293.90,295.20 L294.40,295.20 L294.90,295.20 L295.40,295.20 L295.90,295.20 L296.40,295.20 L296.90,295.20 L297.40,295.20 L297.90,295.20 L298.40,295.20 L298.90,295.20 L299.40,295.20 L299.90,295.20 L300.40,295.20 L300.90,295.20 L301.40,295.20 L301.90,295.20 L302.40,295.20 L302.90,295.20 L303.40,295.20 L303.90,295.20 L304.40,295.20 L304.90,295.20 L305.40,295.20 L305.90,295.20 L306.40,295.20 L306.90,295.20" fill="none" stroke="#2a2a2a" stroke-width="1.5" stroke-linejoin="round"/>
<path d="M170.40,292.23 L170.90,293.03 L171.40,293.66 L171.90,294.13 L172.40,294.48 L172.90,294.73 L173.40,294.90 L173.90,295.02 L174.40,295.09 L174.90,295.14 L175.40,295.16 L175.90,295.18 L176.40,295.19 L176.90,295.19 L177.40,295.20 L177.90,295.20 L178.40,295.20 L178.90,295.20 L179.40,295.20 L179.90,295.20 L180.40,295.20 L180.90,295.20 L181.40,295.20 L181.90,295.19 L182.40,295.19 L182.90,295.19 L183.40,295.18 L183.90,295.17 L184.40,295.16 L184.90,295.15 L185.40,295.13 L185.90,295.10 L186.40,295.07 L186.90,295.03 L187.40,294.97 L187.90,294.90 L188.40,294.81 L188.90,294.69 L189.40,294.55 L189.90,294.38 L190.40,294.17 L190.90,293.93 L191.40,293.63 L191.90,293.29 L192.40,292.89 L192.90,292.43 L193.40,291.91 L193.90,291.34 L194.40,290.70 L194.90,290.00 L195.40,289.26 L195.90,288.47 L196.40,287.65 L196.90,286.80 L197.40,285.94 L197.90,285.09 L198.40,284.26 L198.90,283.48 L199.40,282.75 L199.90,282.10 L200.40,281.55 L200.90,281.10 L201.40,280.77 L201.90,280.57 L202.40,280.50 L202.90,280.57 L203.40,280.79 L203.90,281.15 L204.40,281.63 L204.90,282.23 L205.40,282.92 L205.90,283.69 L206.40,284.53 L206.90,285.39 L207.40,286.28 L207.90,287.17 L208.40,288.04 L208.90,288.88 L209.40,289.67 L209.90,290.41 L210.40,291.08 L210.90,291.69 L211.40,292.22 L211.90,292.68 L212.40,293.06 L212.90,293.37 L213.40,293.61 L213.90,293.77 L214.40,293.87 L214.90,293.90 L215.40,293.87 L215.90,293.78 L216.40,293.64 L216.90,293.47 L217.40,293.27 L217.90,293.05 L218.40,292.84 L218.90,292.63 L219.40,292.45 L219.90,292.31 L220.40,292.22 L220.90,292.19 L221.40,292.21 L221.90,292.29 L222.40,292.43 L222.90,292.61 L223.40,292.83 L223.90,293.07 L224.40,293.33 L224.90,293.59 L225.40,293.84 L225.90,294.07 L226.40,294.29 L226.90,294.48 L227.40,294.64 L227.90,294.77 L228.40,294.88 L228.90,294.97 L229.40,295.03 L229.90,295.08 L230.40,295.12 L230.90,295.15 L231.40,295.16 L231.90,295.18 L232.40,295.19 L232.90,295.19 L233.40,295.19 L233.90,295.20 L234.40,295.20 L234.90,295.20 L235.40,295.20 L235.90,295.20 L236.40,295.20 L236.90,295.20 L237.40,295.20 L237.90,295.20 L238.40,295.20 L238.90,295.20 L239.40,295.20 L239.90,295.20 L240.40,295.20 L240.90,295.20 L241.40,295.20 L241.90,295.20 L242.40,295.20 L242.90,295.20 L243.40,295.20 L243.90,295.20 L244.40,295.20 L244.90,295.20 L245.40,295.20 L245.90,295.20 L246.40,295.20 L246.90,295.20 L247.40,295.20 L247.90,295.19 L248.40,295.19 L248.90,295.18 L249.40,295.18 L249.90,295.17 L250.40,295.16 L250.90,295.14 L251.40,295.11 L251.90,295.08 L252.40,295.04 L252.90,294.98 L253.40,294.90 L253.90,294.80 L254.40,294.67 L254.90,294.51 L255.40,294.30 L255.90,294.05 L256.40,293.73 L256.90,293.34 L257.40,292.86 L257.90,292.29 L258.40,291.61 L258.90,290.81 L259.40,289.88 L259.90,288.80 L260.40,287.57 L260.90,286.18 L261.40,284.63 L261.90,282.92 L262.40,281.05 L262.90,279.04 L263.40,276.90 L263.90,274.65 L264.40,272.33 L264.90,269.96 L265.40,267.58 L265.90,265.24 L266.40,262.97 L266.90,260.83 L267.40,258.86 L267.90,257.11 L268.40,255.61 L268.90,254.40 L269.40,253.52 L269.90,252.98 L270.40,252.80 L270.90,252.99 L271.40,253.55 L271.90,254.46 L272.40,255.71 L272.90,257.26 L273.40,259.08 L273.90,261.11 L274.40,263.31 L274.90,265.63 L275.40,268.03 L275.90,270.45 L276.40,272.86 L276.90,275.21 L277.40,277.47 L277.90,279.61 L278.40,281.62 L278.90,283.47 L279.40,285.15 L279.90,286.66 L280.40,288.00 L280.90,289.16 L281.40,290.16 L281.90,291.01 L282.40,291.70 L282.90,292.24 L283.40,292.64 L283.90,292.91 L284.40,293.05 L284.90,293.05 L285.40,292.91 L285.90,292.63 L286.40,292.19 L286.90,291.59 L287.40,290.82 L287.90,289.86 L288.40,288.71 L288.90,287.36 L289.40,285.81 L289.90,284.06 L290.40,282.13 L290.90,280.03 L291.40,277.79 L291.90,275.45 L292.40,273.05 L292.90,270.66 L293.40,268.32 L293.90,266.11 L294.40,264.09 L294.90,262.31 L295.40,260.84 L295.90,259.73 L296.40,259.01 L296.90,258.71 L297.40,258.78 L297.90,259.11 L298.40,259.68 L298.90,260.48 L299.40,261.51 L299.90,262.72 L300.40,264.11 L300.90,265.65 L301.40,267.31 L301.90,269.05 L302.40,270.86 L302.90,272.69 L303.40,274.54 L303.90,276.36 L304.40,278.14 L304.90,279.86 L305.40,281.50 L305.90,283.05 L306.40,284.50 L306.90,285.84" fill="none" stroke="#000" stroke-width="1.5" stroke-linejoin="round"/>
<line x1="170.4" y1="295.2" x2="307.3" y2="295.2" stroke="#000" stroke-width="1.3"/>
<path d="M283,294.6 C290,292.5 298,288.5 305,285.2 Q308.6,283.8 307.4,289 Q306.2,293.6 300,294" fill="none" stroke="#222" stroke-width="1.4"/>
<line x1="330.8" y1="29.4" x2="467.7" y2="29.4" stroke="#111" stroke-width="1.3"/>
<path transform="translate(336.70,30.90)" d="M0.8,9 V3 Q0.8,0.8 3.3,0.8 Q5.8,0.8 5.8,3 V9 M0.8,5.2 H5.8" fill="none" stroke="#555" stroke-width="1.65"/>
<path transform="translate(356.70,30.90)" d="M5.8,2.8 V0.8 H0.8 V8.2 H5.8 V6.2" fill="none" stroke="#111" stroke-width="1.65"/>
<path transform="translate(378.30,30.90)" d="M0.8,9 V3 Q0.8,0.8 3.3,0.8 Q5.8,0.8 5.8,3 V9 M0.8,5.2 H5.8" fill="none" stroke="#555" stroke-width="1.65"/>
<path transform="translate(401.70,30.90)" d="M0.8,9 V3 Q0.8,0.8 3.3,0.8 Q5.8,0.8 5.8,3 V9 M0.8,5.2 H5.8" fill="none" stroke="#555" stroke-width="1.65"/>
<path transform="translate(425.70,30.90)" d="M5.8,2.4 V0.8 H0.8 V8.2 H5.8 V5 H3.4" fill="none" stroke="#111" stroke-width="1.65"/>
<path transform="translate(450.90,30.90)" d="M0.8,9 V3 Q0.8,0.8 3.3,0.8 Q5.8,0.8 5.8,3 V9 M0.8,5.2 H5.8" fill="none" stroke="#555" stroke-width="1.65"/>
<path d="M330.80,104.12 L331.30,103.57 L331.80,102.89 L332.30,102.06 L332.80,101.07 L333.30,99.91 L333.80,98.57 L334.30,97.03 L334.80,95.31 L335.30,93.40 L335.80,91.32 L336.30,89.11 L336.80,86.79 L337.30,84.40 L337.80,82.01 L338.30,79.66 L338.80,77.42 L339.30,75.36 L339.80,73.53 L340.30,72.00 L340.80,70.82 L341.30,70.02 L341.80,69.63 L342.30,69.67 L342.80,70.10 L343.30,70.91 L343.80,72.07 L344.30,73.55 L344.80,75.29 L345.30,77.26 L345.80,79.39 L346.30,81.63 L346.80,83.92 L347.30,86.21 L347.80,88.46 L348.30,90.62 L348.80,92.66 L349.30,94.55 L349.80,96.28 L350.30,97.84 L350.80,99.22 L351.30,100.43 L351.80,101.47 L352.30,102.36 L352.80,103.10 L353.30,103.72 L353.80,104.23 L354.30,104.63 L354.80,104.96 L355.30,105.22 L355.80,105.42 L356.30,105.57 L356.80,105.69 L357.30,105.77 L357.80,105.84 L358.30,105.89 L358.80,105.92 L359.30,105.94 L359.80,105.96 L360.30,105.97 L360.80,105.98 L361.30,105.99 L361.80,105.99 L362.30,105.99 L362.80,106.00 L363.30,106.00 L363.80,105.99 L364.30,105.99 L364.80,105.99 L365.30,105.98 L365.80,105.98 L366.30,105.97 L366.80,105.95 L367.30,105.93 L367.80,105.89 L368.30,105.85 L368.80,105.79 L369.30,105.71 L369.80,105.60 L370.30,105.46 L370.80,105.27 L371.30,105.04 L371.80,104.74 L372.30,104.36 L372.80,103.90 L373.30,103.34 L373.80,102.67 L374.30,101.88 L374.80,100.95 L375.30,99.89 L375.80,98.68 L376.30,97.34 L376.80,95.86 L377.30,94.27 L377.80,92.58 L378.30,90.82 L378.80,89.02 L379.30,87.22 L379.80,85.46 L380.30,83.79 L380.80,82.26 L381.30,80.91 L381.80,79.77 L382.30,78.90 L382.80,78.31 L383.30,78.03 L383.80,78.06 L384.30,78.40 L384.80,79.05 L385.30,79.98 L385.80,81.16 L386.30,82.55 L386.80,84.11 L387.30,85.80 L387.80,87.56 L388.30,89.36 L388.80,91.14 L389.30,92.87 L389.80,94.52 L390.30,96.06 L390.80,97.46 L391.30,98.72 L391.80,99.81 L392.30,100.72 L392.80,101.47 L393.30,102.03 L393.80,102.41 L394.30,102.61 L394.80,102.63 L395.30,102.45 L395.80,102.09 L396.30,101.52 L396.80,100.75 L397.30,99.76 L397.80,98.56 L398.30,97.15 L398.80,95.53 L399.30,93.70 L399.80,91.68 L400.30,89.50 L400.80,87.18 L401.30,84.78 L401.80,82.32 L402.30,79.88 L402.80,77.51 L403.30,75.26 L403.80,73.22 L404.30,71.43 L404.80,69.95 L405.30,68.83 L405.80,68.11 L406.30,67.81 L406.80,67.94 L407.30,68.49 L407.80,69.46 L408.30,70.80 L408.80,72.47 L409.30,74.42 L409.80,76.59 L410.30,78.93 L410.80,81.35 L411.30,83.82 L411.80,86.26 L412.30,88.63 L412.80,90.88 L413.30,93.00 L413.80,94.94 L414.30,96.70 L414.80,98.26 L415.30,99.64 L415.80,100.83 L416.30,101.84 L416.80,102.69 L417.30,103.40 L417.80,103.97 L418.30,104.43 L418.80,104.79 L419.30,105.07 L419.80,105.28 L420.30,105.42 L420.80,105.52 L421.30,105.57 L421.80,105.58 L422.30,105.56 L422.80,105.50 L423.30,105.41 L423.80,105.29 L424.30,105.14 L424.80,104.96 L425.30,104.76 L425.80,104.53 L426.30,104.29 L426.80,104.04 L427.30,103.78 L427.80,103.53 L428.30,103.29 L428.80,103.08 L429.30,102.89 L429.80,102.75 L430.30,102.65 L430.80,102.60 L431.30,102.61 L431.80,102.67 L432.30,102.77 L432.80,102.93 L433.30,103.12 L433.80,103.34 L434.30,103.58 L434.80,103.83 L435.30,104.09 L435.80,104.34 L436.30,104.58 L436.80,104.79 L437.30,104.99 L437.80,105.16 L438.30,105.30 L438.80,105.41 L439.30,105.49 L439.80,105.53 L440.30,105.53 L440.80,105.50 L441.30,105.41 L441.80,105.28 L442.30,105.08 L442.80,104.81 L443.30,104.45 L443.80,103.99 L444.30,103.41 L444.80,102.69 L445.30,101.80 L445.80,100.74 L446.30,99.47 L446.80,97.98 L447.30,96.27 L447.80,94.31 L448.30,92.11 L448.80,89.67 L449.30,87.01 L449.80,84.16 L450.30,81.15 L450.80,78.03 L451.30,74.86 L451.80,71.70 L452.30,68.63 L452.80,65.72 L453.30,63.06 L453.80,60.72 L454.30,58.76 L454.80,57.25 L455.30,56.23 L455.80,55.74 L456.30,55.79 L456.80,56.34 L457.30,57.37 L457.80,58.86 L458.30,60.75 L458.80,63.00 L459.30,65.54 L459.80,68.32 L460.30,71.25 L460.80,74.27 L461.30,77.32 L461.80,80.33 L462.30,83.26 L462.80,86.05 L463.30,88.67 L463.80,91.10 L464.30,93.32 L464.80,95.31 L465.30,97.08 L465.80,98.63 L466.30,99.97 L466.80,101.12 L467.30,102.09" fill="none" stroke="#5e5e5e" stroke-width="1.5" stroke-linejoin="round"/>
<path d="M330.80,106.00 L331.30,106.00 L331.80,106.00 L332.30,106.00 L332.80,106.00 L333.30,106.00 L333.80,106.00 L334.30,106.00 L334.80,106.00 L335.30,106.00 L335.80,106.00 L336.30,106.00 L336.80,106.00 L337.30,106.00 L337.80,106.00 L338.30,106.00 L338.80,106.00 L339.30,106.00 L339.80,106.00 L340.30,106.00 L340.80,106.00 L341.30,106.00 L341.80,106.00 L342.30,105.99 L342.80,105.99 L343.30,105.99 L343.80,105.98 L344.30,105.97 L344.80,105.95 L345.30,105.93 L345.80,105.90 L346.30,105.86 L346.80,105.81 L347.30,105.73 L347.80,105.63 L348.30,105.50 L348.80,105.32 L349.30,105.10 L349.80,104.82 L350.30,104.46 L350.80,104.02 L351.30,103.47 L351.80,102.82 L352.30,102.03 L352.80,101.11 L353.30,100.03 L353.80,98.80 L354.30,97.41 L354.80,95.85 L355.30,94.15 L355.80,92.31 L356.30,90.36 L356.80,88.31 L357.30,86.22 L357.80,84.12 L358.30,82.06 L358.80,80.09 L359.30,78.26 L359.80,76.61 L360.30,75.21 L360.80,74.09 L361.30,73.28 L361.80,72.82 L362.30,72.71 L362.80,72.96 L363.30,73.56 L363.80,74.50 L364.30,75.74 L364.80,77.24 L365.30,78.97 L365.80,80.86 L366.30,82.88 L366.80,84.96 L367.30,87.06 L367.80,89.14 L368.30,91.15 L368.80,93.06 L369.30,94.85 L369.80,96.49 L370.30,97.98 L370.80,99.31 L371.30,100.48 L371.80,101.49 L372.30,102.36 L372.80,103.09 L373.30,103.70 L373.80,104.20 L374.30,104.61 L374.80,104.94 L375.30,105.20 L375.80,105.40 L376.30,105.55 L376.80,105.67 L377.30,105.76 L377.80,105.83 L378.30,105.88 L378.80,105.92 L379.30,105.94 L379.80,105.96 L380.30,105.97 L380.80,105.98 L381.30,105.99 L381.80,105.99 L382.30,105.99 L382.80,106.00 L383.30,106.00 L383.80,106.00 L384.30,106.00 L384.80,106.00 L385.30,106.00 L385.80,106.00 L386.30,106.00 L386.80,106.00 L387.30,106.00 L387.80,106.00 L388.30,106.00 L388.80,106.00 L389.30,106.00 L389.80,106.00 L390.30,106.00 L390.80,106.00 L391.30,106.00 L391.80,106.00 L392.30,106.00 L392.80,106.00 L393.30,106.00 L393.80,106.00 L394.30,106.00 L394.80,106.00 L395.30,106.00 L395.80,106.00 L396.30,106.00 L396.80,106.00 L397.30,106.00 L397.80,106.00 L398.30,106.00 L398.80,106.00 L399.30,106.00 L399.80,106.00 L400.30,106.00 L400.80,106.00 L401.30,106.00 L401.80,106.00 L402.30,106.00 L402.80,106.00 L403.30,106.00 L403.80,106.00 L404.30,106.00 L404.80,106.00 L405.30,106.00 L405.80,106.00 L406.30,106.00 L406.80,106.00 L407.30,106.00 L407.80,106.00 L408.30,106.00 L408.80,106.00 L409.30,106.00 L409.80,106.00 L410.30,106.00 L410.80,106.00 L411.30,106.00 L411.80,106.00 L412.30,106.00 L412.80,106.00 L413.30,106.00 L413.80,106.00 L414.30,106.00 L414.80,106.00 L415.30,106.00 L415.80,106.00 L416.30,106.00 L416.80,106.00 L417.30,106.00 L417.80,106.00 L418.30,106.00 L418.80,106.00 L419.30,106.00 L419.80,106.00 L420.30,106.00 L420.80,106.00 L421.30,106.00 L421.80,106.00 L422.30,106.00 L422.80,106.00 L423.30,106.00 L423.80,106.00 L424.30,106.00 L424.80,106.00 L425.30,106.00 L425.80,106.00 L426.30,106.00 L426.80,106.00 L427.30,106.00 L427.80,106.00 L428.30,106.00 L428.80,106.00 L429.30,106.00 L429.80,106.00 L430.30,106.00 L430.80,106.00 L431.30,106.00 L431.80,106.00 L432.30,106.00 L432.80,106.00 L433.30,106.00 L433.80,106.00 L434.30,106.00 L434.80,106.00 L435.30,106.00 L435.80,106.00 L436.30,106.00 L436.80,106.00 L437.30,106.00 L437.80,106.00 L438.30,106.00 L438.80,106.00 L439.30,106.00 L439.80,106.00 L440.30,106.00 L440.80,106.00 L441.30,106.00 L441.80,106.00 L442.30,106.00 L442.80,106.00 L443.30,106.00 L443.80,106.00 L444.30,106.00 L444.80,106.00 L445.30,106.00 L445.80,106.00 L446.30,106.00 L446.80,106.00 L447.30,106.00 L447.80,106.00 L448.30,106.00 L448.80,106.00 L449.30,106.00 L449.80,106.00 L450.30,106.00 L450.80,106.00 L451.30,106.00 L451.80,106.00 L452.30,106.00 L452.80,106.00 L453.30,106.00 L453.80,106.00 L454.30,106.00 L454.80,106.00 L455.30,106.00 L455.80,106.00 L456.30,106.00 L456.80,106.00 L457.30,106.00 L457.80,106.00 L458.30,106.00 L458.80,106.00 L459.30,106.00 L459.80,106.00 L460.30,106.00 L460.80,106.00 L461.30,106.00 L461.80,106.00 L462.30,106.00 L462.80,106.00 L463.30,106.00 L463.80,106.00 L464.30,106.00 L464.80,106.00 L465.30,106.00 L465.80,106.00 L466.30,106.00 L466.80,106.00 L467.30,106.00" fill="none" stroke="#1a1a1a" stroke-width="1.5" stroke-linejoin="round"/>
<path d="M330.80,106.00 L331.30,106.00 L331.80,106.00 L332.30,106.00 L332.80,106.00 L333.30,106.00 L333.80,106.00 L334.30,106.00 L334.80,106.00 L335.30,106.00 L335.80,106.00 L336.30,106.00 L336.80,106.00 L337.30,106.00 L337.80,106.00 L338.30,106.00 L338.80,106.00 L339.30,106.00 L339.80,106.00 L340.30,106.00 L340.80,106.00 L341.30,106.00 L341.80,106.00 L342.30,106.00 L342.80,106.00 L343.30,106.00 L343.80,106.00 L344.30,106.00 L344.80,106.00 L345.30,106.00 L345.80,106.00 L346.30,106.00 L346.80,106.00 L347.30,106.00 L347.80,106.00 L348.30,106.00 L348.80,106.00 L349.30,106.00 L349.80,106.00 L350.30,106.00 L350.80,106.00 L351.30,106.00 L351.80,106.00 L352.30,106.00 L352.80,106.00 L353.30,106.00 L353.80,106.00 L354.30,106.00 L354.80,106.00 L355.30,106.00 L355.80,106.00 L356.30,106.00 L356.80,106.00 L357.30,106.00 L357.80,106.00 L358.30,106.00 L358.80,106.00 L359.30,106.00 L359.80,106.00 L360.30,106.00 L360.80,106.00 L361.30,106.00 L361.80,106.00 L362.30,106.00 L362.80,106.00 L363.30,106.00 L363.80,106.00 L364.30,106.00 L364.80,106.00 L365.30,106.00 L365.80,106.00 L366.30,106.00 L366.80,106.00 L367.30,106.00 L367.80,106.00 L368.30,106.00 L368.80,106.00 L369.30,106.00 L369.80,106.00 L370.30,106.00 L370.80,106.00 L371.30,106.00 L371.80,106.00 L372.30,106.00 L372.80,106.00 L373.30,106.00 L373.80,106.00 L374.30,106.00 L374.80,106.00 L375.30,106.00 L375.80,106.00 L376.30,106.00 L376.80,106.00 L377.30,106.00 L377.80,106.00 L378.30,106.00 L378.80,106.00 L379.30,106.00 L379.80,106.00 L380.30,106.00 L380.80,106.00 L381.30,106.00 L381.80,106.00 L382.30,106.00 L382.80,106.00 L383.30,106.00 L383.80,106.00 L384.30,106.00 L384.80,106.00 L385.30,106.00 L385.80,106.00 L386.30,106.00 L386.80,106.00 L387.30,106.00 L387.80,106.00 L388.30,106.00 L388.80,106.00 L389.30,106.00 L389.80,106.00 L390.30,106.00 L390.80,106.00 L391.30,106.00 L391.80,106.00 L392.30,106.00 L392.80,106.00 L393.30,106.00 L393.80,106.00 L394.30,106.00 L394.80,106.00 L395.30,106.00 L395.80,106.00 L396.30,106.00 L396.80,106.00 L397.30,106.00 L397.80,106.00 L398.30,106.00 L398.80,106.00 L399.30,106.00 L399.80,106.00 L400.30,106.00 L400.80,106.00 L401.30,106.00 L401.80,106.00 L402.30,106.00 L402.80,106.00 L403.30,106.00 L403.80,106.00 L404.30,106.00 L404.80,106.00 L405.30,106.00 L405.80,106.00 L406.30,106.00 L406.80,106.00 L407.30,106.00 L407.80,106.00 L408.30,106.00 L408.80,106.00 L409.30,106.00 L409.80,106.00 L410.30,105.99 L410.80,105.99 L411.30,105.98 L411.80,105.98 L412.30,105.97 L412.80,105.95 L413.30,105.93 L413.80,105.90 L414.30,105.85 L414.80,105.79 L415.30,105.71 L415.80,105.61 L416.30,105.47 L416.80,105.30 L417.30,105.07 L417.80,104.79 L418.30,104.44 L418.80,104.01 L419.30,103.49 L419.80,102.88 L420.30,102.15 L420.80,101.30 L421.30,100.34 L421.80,99.25 L422.30,98.05 L422.80,96.74 L423.30,95.33 L423.80,93.85 L424.30,92.31 L424.80,90.76 L425.30,89.22 L425.80,87.74 L426.30,86.34 L426.80,85.08 L427.30,83.99 L427.80,83.10 L428.30,82.44 L428.80,82.04 L429.30,81.90 L429.80,82.04 L430.30,82.44 L430.80,83.10 L431.30,83.99 L431.80,85.08 L432.30,86.34 L432.80,87.74 L433.30,89.22 L433.80,90.76 L434.30,92.31 L434.80,93.85 L435.30,95.33 L435.80,96.74 L436.30,98.05 L436.80,99.25 L437.30,100.34 L437.80,101.30 L438.30,102.15 L438.80,102.88 L439.30,103.49 L439.80,104.01 L440.30,104.44 L440.80,104.79 L441.30,105.07 L441.80,105.30 L442.30,105.47 L442.80,105.61 L443.30,105.71 L443.80,105.79 L444.30,105.85 L444.80,105.90 L445.30,105.93 L445.80,105.95 L446.30,105.97 L446.80,105.98 L447.30,105.98 L447.80,105.99 L448.30,105.99 L448.80,106.00 L449.30,106.00 L449.80,106.00 L450.30,106.00 L450.80,106.00 L451.30,106.00 L451.80,106.00 L452.30,106.00 L452.80,106.00 L453.30,106.00 L453.80,106.00 L454.30,106.00 L454.80,106.00 L455.30,106.00 L455.80,106.00 L456.30,106.00 L456.80,106.00 L457.30,106.00 L457.80,106.00 L458.30,106.00 L458.80,106.00 L459.30,106.00 L459.80,106.00 L460.30,106.00 L460.80,106.00 L461.30,106.00 L461.80,106.00 L462.30,106.00 L462.80,106.00 L463.30,106.00 L463.80,106.00 L464.30,106.00 L464.80,106.00 L465.30,106.00 L465.80,106.00 L466.30,106.00 L466.80,106.00 L467.30,106.00" fill="none" stroke="#000" stroke-width="1.5" stroke-linejoin="round"/>
<line x1="330.8" y1="106.0" x2="467.7" y2="106.0" stroke="#000" stroke-width="1.3"/>
<line x1="330.8" y1="121.1" x2="467.7" y2="121.1" stroke="#111" stroke-width="1.3"/>
<path transform="translate(335.90,122.60)" d="M0.8,9 V3 Q0.8,0.8 3.3,0.8 Q5.8,0.8 5.8,3 V9 M0.8,5.2 H5.8" fill="none" stroke="#555" stroke-width="1.65"/>
<path transform="translate(359.40,122.60)" d="M0.8,9 V3 Q0.8,0.8 3.3,0.8 Q5.8,0.8 5.8,3 V9 M0.8,5.2 H5.8" fill="none" stroke="#555" stroke-width="1.65"/>
<path transform="translate(380.90,122.60)" d="M0.8,9 V3 Q0.8,0.8 3.3,0.8 Q5.8,0.8 5.8,3 V9 M0.8,5.2 H5.8" fill="none" stroke="#555" stroke-width="1.65"/>
<path transform="translate(402.00,122.60)" d="M0.8,9 V3 Q0.8,0.8 3.3,0.8 Q5.8,0.8 5.8,3 V9 M0.8,5.2 H5.8" fill="none" stroke="#555" stroke-width="1.65"/>
<path transform="translate(426.00,122.60)" d="M5.8,2.4 V0.8 H0.8 V8.2 H5.8 V5 H3.4" fill="none" stroke="#111" stroke-width="1.65"/>
<path transform="translate(451.40,122.60)" d="M0.8,9 V3 Q0.8,0.8 3.3,0.8 Q5.8,0.8 5.8,3 V9 M0.8,5.2 H5.8" fill="none" stroke="#555" stroke-width="1.65"/>
<path d="M330.80,195.26 L331.30,194.55 L331.80,193.71 L332.30,192.72 L332.80,191.57 L333.30,190.26 L333.80,188.79 L334.30,187.15 L334.80,185.35 L335.30,183.42 L335.80,181.37 L336.30,179.25 L336.80,177.07 L337.30,174.90 L337.80,172.78 L338.30,170.76 L338.80,168.90 L339.30,167.24 L339.80,165.84 L340.30,164.74 L340.80,163.97 L341.30,163.56 L341.80,163.52 L342.30,163.77 L342.80,164.30 L343.30,165.09 L343.80,166.13 L344.30,167.39 L344.80,168.83 L345.30,170.43 L345.80,172.15 L346.30,173.94 L346.80,175.79 L347.30,177.64 L347.80,179.47 L348.30,181.23 L348.80,182.92 L349.30,184.49 L349.80,185.92 L350.30,187.21 L350.80,188.34 L351.30,189.29 L351.80,190.06 L352.30,190.65 L352.80,191.05 L353.30,191.27 L353.80,191.31 L354.30,191.18 L354.80,190.88 L355.30,190.42 L355.80,189.83 L356.30,189.10 L356.80,188.26 L357.30,187.33 L357.80,186.33 L358.30,185.27 L358.80,184.19 L359.30,183.11 L359.80,182.05 L360.30,181.03 L360.80,180.10 L361.30,179.26 L361.80,178.54 L362.30,177.96 L362.80,177.53 L363.30,177.27 L363.80,177.18 L364.30,177.27 L364.80,177.53 L365.30,177.96 L365.80,178.55 L366.30,179.27 L366.80,180.11 L367.30,181.06 L367.80,182.08 L368.30,183.14 L368.80,184.24 L369.30,185.33 L369.80,186.39 L370.30,187.41 L370.80,188.35 L371.30,189.19 L371.80,189.92 L372.30,190.52 L372.80,190.98 L373.30,191.27 L373.80,191.39 L374.30,191.34 L374.80,191.09 L375.30,190.65 L375.80,190.02 L376.30,189.19 L376.80,188.18 L377.30,186.98 L377.80,185.62 L378.30,184.10 L378.80,182.45 L379.30,180.70 L379.80,178.88 L380.30,177.02 L380.80,175.16 L381.30,173.34 L381.80,171.61 L382.30,170.00 L382.80,168.56 L383.30,167.32 L383.80,166.32 L384.30,165.59 L384.80,165.14 L385.30,164.99 L385.80,165.14 L386.30,165.59 L386.80,166.33 L387.30,167.33 L387.80,168.57 L388.30,170.01 L388.80,171.62 L389.30,173.35 L389.80,175.17 L390.30,177.03 L390.80,178.88 L391.30,180.70 L391.80,182.43 L392.30,184.06 L392.80,185.54 L393.30,186.85 L393.80,187.98 L394.30,188.91 L394.80,189.61 L395.30,190.09 L395.80,190.32 L396.30,190.32 L396.80,190.06 L397.30,189.56 L397.80,188.81 L398.30,187.83 L398.80,186.61 L399.30,185.18 L399.80,183.54 L400.30,181.72 L400.80,179.76 L401.30,177.67 L401.80,175.49 L402.30,173.28 L402.80,171.07 L403.30,168.91 L403.80,166.85 L404.30,164.94 L404.80,163.23 L405.30,161.76 L405.80,160.58 L406.30,159.71 L406.80,159.17 L407.30,159.00 L407.80,159.18 L408.30,159.71 L408.80,160.59 L409.30,161.78 L409.80,163.26 L410.30,164.98 L410.80,166.90 L411.30,168.99 L411.80,171.18 L412.30,173.44 L412.80,175.71 L413.30,177.96 L413.80,180.14 L414.30,182.24 L414.80,184.22 L415.30,186.06 L415.80,187.74 L416.30,189.28 L416.80,190.64 L417.30,191.85 L417.80,192.91 L418.30,193.82 L418.80,194.59 L419.30,195.24 L419.80,195.77 L420.30,196.20 L420.80,196.54 L421.30,196.80 L421.80,196.99 L422.30,197.11 L422.80,197.17 L423.30,197.19 L423.80,197.15 L424.30,197.08 L424.80,196.96 L425.30,196.82 L425.80,196.64 L426.30,196.45 L426.80,196.24 L427.30,196.02 L427.80,195.81 L428.30,195.60 L428.80,195.41 L429.30,195.25 L429.80,195.13 L430.30,195.04 L430.80,195.00 L431.30,195.01 L431.80,195.06 L432.30,195.15 L432.80,195.28 L433.30,195.45 L433.80,195.64 L434.30,195.85 L434.80,196.07 L435.30,196.29 L435.80,196.50 L436.30,196.69 L436.80,196.87 L437.30,197.02 L437.80,197.13 L438.30,197.21 L438.80,197.25 L439.30,197.24 L439.80,197.18 L440.30,197.06 L440.80,196.87 L441.30,196.61 L441.80,196.27 L442.30,195.82 L442.80,195.27 L443.30,194.58 L443.80,193.75 L444.30,192.76 L444.80,191.59 L445.30,190.23 L445.80,188.66 L446.30,186.88 L446.80,184.87 L447.30,182.66 L447.80,180.23 L448.30,177.60 L448.80,174.80 L449.30,171.87 L449.80,168.83 L450.30,165.73 L450.80,162.64 L451.30,159.61 L451.80,156.70 L452.30,153.98 L452.80,151.51 L453.30,149.35 L453.80,147.57 L454.30,146.20 L454.80,145.28 L455.30,144.84 L455.80,144.88 L456.30,145.34 L456.80,146.21 L457.30,147.48 L457.80,149.10 L458.30,151.05 L458.80,153.28 L459.30,155.74 L459.80,158.38 L460.30,161.16 L460.80,164.01 L461.30,166.88 L461.80,169.75 L462.30,172.55 L462.80,175.25 L463.30,177.83 L463.80,180.26 L464.30,182.52 L464.80,184.60 L465.30,186.49 L465.80,188.20 L466.30,189.72 L466.80,191.05 L467.30,192.22" fill="none" stroke="#5e5e5e" stroke-width="1.5" stroke-linejoin="round"/>
<path d="M330.80,198.00 L331.30,198.00 L331.80,198.00 L332.30,198.00 L332.80,198.00 L333.30,198.00 L333.80,198.00 L334.30,198.00 L334.80,198.00 L335.30,198.00 L335.80,198.00 L336.30,198.00 L336.80,198.00 L337.30,198.00 L337.80,198.00 L338.30,198.00 L338.80,198.00 L339.30,198.00 L339.80,198.00 L340.30,198.00 L340.80,198.00 L341.30,198.00 L341.80,198.00 L342.30,198.00 L342.80,197.99 L343.30,197.99 L343.80,197.99 L344.30,197.98 L344.80,197.97 L345.30,197.96 L345.80,197.94 L346.30,197.92 L346.80,197.89 L347.30,197.84 L347.80,197.79 L348.30,197.71 L348.80,197.61 L349.30,197.49 L349.80,197.33 L350.30,197.13 L350.80,196.88 L351.30,196.58 L351.80,196.22 L352.30,195.79 L352.80,195.29 L353.30,194.71 L353.80,194.05 L354.30,193.30 L354.80,192.48 L355.30,191.58 L355.80,190.62 L356.30,189.60 L356.80,188.55 L357.30,187.47 L357.80,186.41 L358.30,185.37 L358.80,184.39 L359.30,183.49 L359.80,182.70 L360.30,182.03 L360.80,181.52 L361.30,181.18 L361.80,181.01 L362.30,181.03 L362.80,181.23 L363.30,181.61 L363.80,182.15 L364.30,182.84 L364.80,183.66 L365.30,184.58 L365.80,185.57 L366.30,186.62 L366.80,187.69 L367.30,188.76 L367.80,189.81 L368.30,190.82 L368.80,191.77 L369.30,192.65 L369.80,193.46 L370.30,194.19 L370.80,194.83 L371.30,195.40 L371.80,195.89 L372.30,196.30 L372.80,196.65 L373.30,196.94 L373.80,197.17 L374.30,197.36 L374.80,197.51 L375.30,197.63 L375.80,197.73 L376.30,197.80 L376.80,197.85 L377.30,197.89 L377.80,197.92 L378.30,197.95 L378.80,197.96 L379.30,197.97 L379.80,197.98 L380.30,197.99 L380.80,197.99 L381.30,197.99 L381.80,198.00 L382.30,198.00 L382.80,198.00 L383.30,198.00 L383.80,198.00 L384.30,198.00 L384.80,198.00 L385.30,198.00 L385.80,198.00 L386.30,198.00 L386.80,198.00 L387.30,198.00 L387.80,198.00 L388.30,198.00 L388.80,198.00 L389.30,198.00 L389.80,198.00 L390.30,198.00 L390.80,198.00 L391.30,198.00 L391.80,198.00 L392.30,198.00 L392.80,198.00 L393.30,198.00 L393.80,198.00 L394.30,198.00 L394.80,198.00 L395.30,198.00 L395.80,198.00 L396.30,198.00 L396.80,198.00 L397.30,198.00 L397.80,198.00 L398.30,198.00 L398.80,198.00 L399.30,198.00 L399.80,198.00 L400.30,198.00 L400.80,198.00 L401.30,198.00 L401.80,198.00 L402.30,198.00 L402.80,198.00 L403.30,198.00 L403.80,198.00 L404.30,198.00 L404.80,198.00 L405.30,198.00 L405.80,198.00 L406.30,198.00 L406.80,198.00 L407.30,198.00 L407.80,198.00 L408.30,198.00 L408.80,198.00 L409.30,198.00 L409.80,198.00 L410.30,198.00 L410.80,198.00 L411.30,198.00 L411.80,198.00 L412.30,198.00 L412.80,198.00 L413.30,198.00 L413.80,198.00 L414.30,198.00 L414.80,198.00 L415.30,198.00 L415.80,198.00 L416.30,198.00 L416.80,198.00 L417.30,198.00 L417.80,198.00 L418.30,198.00 L418.80,198.00 L419.30,198.00 L419.80,198.00 L420.30,198.00 L420.80,198.00 L421.30,198.00 L421.80,198.00 L422.30,198.00 L422.80,198.00 L423.30,198.00 L423.80,198.00 L424.30,198.00 L424.80,198.00 L425.30,198.00 L425.80,198.00 L426.30,198.00 L426.80,198.00 L427.30,198.00 L427.80,198.00 L428.30,198.00 L428.80,198.00 L429.30,198.00 L429.80,198.00 L430.30,198.00 L430.80,198.00 L431.30,198.00 L431.80,198.00 L432.30,198.00 L432.80,198.00 L433.30,198.00 L433.80,198.00 L434.30,198.00 L434.80,198.00 L435.30,198.00 L435.80,198.00 L436.30,198.00 L436.80,198.00 L437.30,198.00 L437.80,198.00 L438.30,198.00 L438.80,198.00 L439.30,198.00 L439.80,198.00 L440.30,198.00 L440.80,198.00 L441.30,198.00 L441.80,198.00 L442.30,198.00 L442.80,198.00 L443.30,198.00 L443.80,198.00 L444.30,198.00 L444.80,198.00 L445.30,198.00 L445.80,198.00 L446.30,198.00 L446.80,198.00 L447.30,198.00 L447.80,198.00 L448.30,198.00 L448.80,198.00 L449.30,198.00 L449.80,198.00 L450.30,198.00 L450.80,198.00 L451.30,198.00 L451.80,198.00 L452.30,198.00 L452.80,198.00 L453.30,198.00 L453.80,198.00 L454.30,198.00 L454.80,198.00 L455.30,198.00 L455.80,198.00 L456.30,198.00 L456.80,198.00 L457.30,198.00 L457.80,198.00 L458.30,198.00 L458.80,198.00 L459.30,198.00 L459.80,198.00 L460.30,198.00 L460.80,198.00 L461.30,198.00 L461.80,198.00 L462.30,198.00 L462.80,198.00 L463.30,198.00 L463.80,198.00 L464.30,198.00 L464.80,198.00 L465.30,198.00 L465.80,198.00 L466.30,198.00 L466.80,198.00 L467.30,198.00" fill="none" stroke="#1a1a1a" stroke-width="1.5" stroke-linejoin="round"/>
<path d="M330.80,198.00 L331.30,198.00 L331.80,198.00 L332.30,198.00 L332.80,198.00 L333.30,198.00 L333.80,198.00 L334.30,198.00 L334.80,198.00 L335.30,198.00 L335.80,198.00 L336.30,198.00 L336.80,198.00 L337.30,198.00 L337.80,198.00 L338.30,198.00 L338.80,198.00 L339.30,198.00 L339.80,198.00 L340.30,198.00 L340.80,198.00 L341.30,198.00 L341.80,198.00 L342.30,198.00 L342.80,198.00 L343.30,198.00 L343.80,198.00 L344.30,198.00 L344.80,198.00 L345.30,198.00 L345.80,198.00 L346.30,198.00 L346.80,198.00 L347.30,198.00 L347.80,198.00 L348.30,198.00 L348.80,198.00 L349.30,198.00 L349.80,198.00 L350.30,198.00 L350.80,198.00 L351.30,198.00 L351.80,198.00 L352.30,198.00 L352.80,198.00 L353.30,198.00 L353.80,198.00 L354.30,198.00 L354.80,198.00 L355.30,198.00 L355.80,198.00 L356.30,198.00 L356.80,198.00 L357.30,198.00 L357.80,198.00 L358.30,198.00 L358.80,198.00 L359.30,198.00 L359.80,198.00 L360.30,198.00 L360.80,198.00 L361.30,198.00 L361.80,198.00 L362.30,198.00 L362.80,198.00 L363.30,198.00 L363.80,198.00 L364.30,198.00 L364.80,198.00 L365.30,198.00 L365.80,198.00 L366.30,198.00 L366.80,198.00 L367.30,198.00 L367.80,198.00 L368.30,198.00 L368.80,198.00 L369.30,198.00 L369.80,198.00 L370.30,198.00 L370.80,198.00 L371.30,198.00 L371.80,198.00 L372.30,198.00 L372.80,198.00 L373.30,198.00 L373.80,198.00 L374.30,198.00 L374.80,198.00 L375.30,198.00 L375.80,198.00 L376.30,198.00 L376.80,198.00 L377.30,198.00 L377.80,198.00 L378.30,198.00 L378.80,198.00 L379.30,198.00 L379.80,198.00 L380.30,198.00 L380.80,198.00 L381.30,198.00 L381.80,198.00 L382.30,198.00 L382.80,198.00 L383.30,198.00 L383.80,198.00 L384.30,198.00 L384.80,198.00 L385.30,198.00 L385.80,198.00 L386.30,198.00 L386.80,198.00 L387.30,198.00 L387.80,198.00 L388.30,198.00 L388.80,198.00 L389.30,198.00 L389.80,198.00 L390.30,198.00 L390.80,198.00 L391.30,198.00 L391.80,198.00 L392.30,198.00 L392.80,198.00 L393.30,198.00 L393.80,198.00 L394.30,198.00 L394.80,198.00 L395.30,198.00 L395.80,198.00 L396.30,198.00 L396.80,198.00 L397.30,198.00 L397.80,198.00 L398.30,198.00 L398.80,198.00 L399.30,198.00 L399.80,198.00 L400.30,198.00 L400.80,198.00 L401.30,198.00 L401.80,198.00 L402.30,198.00 L402.80,198.00 L403.30,198.00 L403.80,198.00 L404.30,198.00 L404.80,198.00 L405.30,198.00 L405.80,198.00 L406.30,198.00 L406.80,198.00 L407.30,198.00 L407.80,198.00 L408.30,198.00 L408.80,198.00 L409.30,198.00 L409.80,198.00 L410.30,197.99 L410.80,197.99 L411.30,197.98 L411.80,197.98 L412.30,197.97 L412.80,197.95 L413.30,197.93 L413.80,197.90 L414.30,197.86 L414.80,197.81 L415.30,197.74 L415.80,197.65 L416.30,197.53 L416.80,197.38 L417.30,197.19 L417.80,196.95 L418.30,196.65 L418.80,196.28 L419.30,195.83 L419.80,195.30 L420.30,194.67 L420.80,193.94 L421.30,193.10 L421.80,192.14 L422.30,191.07 L422.80,189.89 L423.30,188.61 L423.80,187.24 L424.30,185.79 L424.80,184.29 L425.30,182.77 L425.80,181.26 L426.30,179.79 L426.80,178.39 L427.30,177.11 L427.80,175.97 L428.30,175.01 L428.80,174.25 L429.30,173.73 L429.80,173.45 L430.30,173.42 L430.80,173.65 L431.30,174.13 L431.80,174.84 L432.30,175.76 L432.80,176.86 L433.30,178.12 L433.80,179.50 L434.30,180.96 L434.80,182.47 L435.30,183.99 L435.80,185.49 L436.30,186.95 L436.80,188.34 L437.30,189.64 L437.80,190.84 L438.30,191.94 L438.80,192.91 L439.30,193.78 L439.80,194.53 L440.30,195.18 L440.80,195.73 L441.30,196.20 L441.80,196.58 L442.30,196.89 L442.80,197.14 L443.30,197.35 L443.80,197.51 L444.30,197.63 L444.80,197.73 L445.30,197.80 L445.80,197.85 L446.30,197.90 L446.80,197.93 L447.30,197.95 L447.80,197.96 L448.30,197.98 L448.80,197.98 L449.30,197.99 L449.80,197.99 L450.30,197.99 L450.80,198.00 L451.30,198.00 L451.80,198.00 L452.30,198.00 L452.80,198.00 L453.30,198.00 L453.80,198.00 L454.30,198.00 L454.80,198.00 L455.30,198.00 L455.80,198.00 L456.30,198.00 L456.80,198.00 L457.30,198.00 L457.80,198.00 L458.30,198.00 L458.80,198.00 L459.30,198.00 L459.80,198.00 L460.30,198.00 L460.80,198.00 L461.30,198.00 L461.80,198.00 L462.30,198.00 L462.80,198.00 L463.30,198.00 L463.80,198.00 L464.30,198.00 L464.80,198.00 L465.30,198.00 L465.80,198.00 L466.30,198.00 L466.80,198.00 L467.30,198.00" fill="none" stroke="#000" stroke-width="1.5" stroke-linejoin="round"/>
<line x1="330.8" y1="198.0" x2="467.7" y2="198.0" stroke="#000" stroke-width="1.3"/>
<line x1="330.8" y1="212.3" x2="467.7" y2="212.3" stroke="#111" stroke-width="1.3"/>
<path transform="translate(335.70,213.80)" d="M0.8,9 V3 Q0.8,0.8 3.3,0.8 Q5.8,0.8 5.8,3 V9 M0.8,5.2 H5.8" fill="none" stroke="#555" stroke-width="1.65"/>
<path transform="translate(355.90,213.80)" d="M5.8,2.8 V0.8 H0.8 V8.2 H5.8 V6.2" fill="none" stroke="#111" stroke-width="1.65"/>
<path transform="translate(377.40,213.80)" d="M0.8,9 V3 Q0.8,0.8 3.3,0.8 Q5.8,0.8 5.8,3 V9 M0.8,5.2 H5.8" fill="none" stroke="#555" stroke-width="1.65"/>
<path transform="translate(401.70,213.80)" d="M0.8,9 V3 Q0.8,0.8 3.3,0.8 Q5.8,0.8 5.8,3 V9 M0.8,5.2 H5.8" fill="none" stroke="#555" stroke-width="1.65"/>
<path transform="translate(425.70,213.80)" d="M5.8,2.4 V0.8 H0.8 V8.2 H5.8 V5 H3.4" fill="none" stroke="#111" stroke-width="1.65"/>
<path transform="translate(451.40,213.80)" d="M0.8,9 V3 Q0.8,0.8 3.3,0.8 Q5.8,0.8 5.8,3 V9 M0.8,5.2 H5.8" fill="none" stroke="#555" stroke-width="1.65"/>
<path d="M330.80,290.23 L331.30,289.25 L331.80,288.11 L332.30,286.82 L332.80,285.38 L333.30,283.78 L333.80,282.05 L334.30,280.20 L334.80,278.25 L335.30,276.23 L335.80,274.19 L336.30,272.17 L336.80,270.22 L337.30,268.38 L337.80,266.71 L338.30,265.25 L338.80,264.05 L339.30,263.14 L339.80,262.55 L340.30,262.31 L340.80,262.40 L341.30,262.82 L341.80,263.54 L342.30,264.55 L342.80,265.81 L343.30,267.30 L343.80,268.97 L344.30,270.77 L344.80,272.67 L345.30,274.62 L345.80,276.57 L346.30,278.50 L346.80,280.36 L347.30,282.14 L347.80,283.80 L348.30,285.33 L348.80,286.72 L349.30,287.97 L349.80,289.08 L350.30,290.05 L350.80,290.89 L351.30,291.60 L351.80,292.20 L352.30,292.70 L352.80,293.11 L353.30,293.44 L353.80,293.71 L354.30,293.92 L354.80,294.09 L355.30,294.22 L355.80,294.32 L356.30,294.39 L356.80,294.45 L357.30,294.49 L357.80,294.52 L358.30,294.55 L358.80,294.56 L359.30,294.57 L359.80,294.58 L360.30,294.59 L360.80,294.59 L361.30,294.59 L361.80,294.59 L362.30,294.59 L362.80,294.58 L363.30,294.58 L363.80,294.57 L364.30,294.55 L364.80,294.53 L365.30,294.51 L365.80,294.48 L366.30,294.43 L366.80,294.38 L367.30,294.30 L367.80,294.21 L368.30,294.08 L368.80,293.93 L369.30,293.74 L369.80,293.50 L370.30,293.21 L370.80,292.86 L371.30,292.44 L371.80,291.94 L372.30,291.35 L372.80,290.68 L373.30,289.90 L373.80,289.02 L374.30,288.03 L374.80,286.94 L375.30,285.74 L375.80,284.45 L376.30,283.07 L376.80,281.62 L377.30,280.12 L377.80,278.59 L378.30,277.06 L378.80,275.54 L379.30,274.08 L379.80,272.70 L380.30,271.44 L380.80,270.32 L381.30,269.37 L381.80,268.62 L382.30,268.08 L382.80,267.77 L383.30,267.70 L383.80,267.87 L384.30,268.27 L384.80,268.89 L385.30,269.72 L385.80,270.73 L386.30,271.91 L386.80,273.21 L387.30,274.61 L387.80,276.08 L388.30,277.58 L388.80,279.08 L389.30,280.56 L389.80,281.98 L390.30,283.32 L390.80,284.56 L391.30,285.69 L391.80,286.68 L392.30,287.52 L392.80,288.21 L393.30,288.73 L393.80,289.09 L394.30,289.27 L394.80,289.27 L395.30,289.09 L395.80,288.73 L396.30,288.19 L396.80,287.47 L397.30,286.58 L397.80,285.52 L398.30,284.31 L398.80,282.94 L399.30,281.45 L399.80,279.85 L400.30,278.16 L400.80,276.41 L401.30,274.63 L401.80,272.86 L402.30,271.13 L402.80,269.48 L403.30,267.95 L403.80,266.57 L404.30,265.38 L404.80,264.40 L405.30,263.67 L405.80,263.20 L406.30,263.00 L406.80,263.09 L407.30,263.45 L407.80,264.08 L408.30,264.97 L408.80,266.08 L409.30,267.39 L409.80,268.88 L410.30,270.49 L410.80,272.21 L411.30,273.99 L411.80,275.80 L412.30,277.59 L412.80,279.36 L413.30,281.06 L413.80,282.68 L414.30,284.19 L414.80,285.60 L415.30,286.88 L415.80,288.04 L416.30,289.08 L416.80,289.99 L417.30,290.78 L417.80,291.46 L418.30,292.04 L418.80,292.52 L419.30,292.92 L419.80,293.25 L420.30,293.50 L420.80,293.70 L421.30,293.83 L421.80,293.92 L422.30,293.97 L422.80,293.97 L423.30,293.93 L423.80,293.86 L424.30,293.76 L424.80,293.62 L425.30,293.46 L425.80,293.27 L426.30,293.07 L426.80,292.85 L427.30,292.63 L427.80,292.41 L428.30,292.20 L428.80,292.02 L429.30,291.86 L429.80,291.73 L430.30,291.64 L430.80,291.60 L431.30,291.61 L431.80,291.66 L432.30,291.75 L432.80,291.89 L433.30,292.06 L433.80,292.25 L434.30,292.46 L434.80,292.69 L435.30,292.91 L435.80,293.13 L436.30,293.34 L436.80,293.53 L437.30,293.70 L437.80,293.85 L438.30,293.97 L438.80,294.06 L439.30,294.12 L439.80,294.15 L440.30,294.15 L440.80,294.11 L441.30,294.02 L441.80,293.89 L442.30,293.71 L442.80,293.46 L443.30,293.14 L443.80,292.74 L444.30,292.23 L444.80,291.61 L445.30,290.86 L445.80,289.97 L446.30,288.91 L446.80,287.69 L447.30,286.29 L447.80,284.70 L448.30,282.92 L448.80,280.96 L449.30,278.84 L449.80,276.56 L450.30,274.16 L450.80,271.66 L451.30,269.13 L451.80,266.59 L452.30,264.10 L452.80,261.73 L453.30,259.52 L453.80,257.54 L454.30,255.83 L454.80,254.45 L455.30,253.43 L455.80,252.81 L456.30,252.60 L456.80,252.79 L457.30,253.37 L457.80,254.31 L458.30,255.59 L458.80,257.18 L459.30,259.04 L459.80,261.11 L460.30,263.36 L460.80,265.72 L461.30,268.15 L461.80,270.59 L462.30,273.02 L462.80,275.37 L463.30,277.63 L463.80,279.76 L464.30,281.74 L464.80,283.56 L465.30,285.21 L465.80,286.68 L466.30,287.99 L466.80,289.13 L467.30,290.12" fill="none" stroke="#5e5e5e" stroke-width="1.5" stroke-linejoin="round"/>
<path d="M330.80,294.60 L331.30,294.60 L331.80,294.60 L332.30,294.60 L332.80,294.60 L333.30,294.60 L333.80,294.60 L334.30,294.60 L334.80,294.60 L335.30,294.60 L335.80,294.60 L336.30,294.60 L336.80,294.60 L337.30,294.60 L337.80,294.60 L338.30,294.60 L338.80,294.60 L339.30,294.60 L339.80,294.60 L340.30,294.60 L340.80,294.59 L341.30,294.59 L341.80,294.59 L342.30,294.58 L342.80,294.58 L343.30,294.56 L343.80,294.55 L344.30,294.53 L344.80,294.50 L345.30,294.46 L345.80,294.40 L346.30,294.33 L346.80,294.23 L347.30,294.11 L347.80,293.95 L348.30,293.75 L348.80,293.50 L349.30,293.18 L349.80,292.80 L350.30,292.33 L350.80,291.77 L351.30,291.10 L351.80,290.32 L352.30,289.42 L352.80,288.39 L353.30,287.24 L353.80,285.95 L354.30,284.54 L354.80,283.02 L355.30,281.40 L355.80,279.70 L356.30,277.95 L356.80,276.18 L357.30,274.43 L357.80,272.72 L358.30,271.11 L358.80,269.64 L359.30,268.33 L359.80,267.23 L360.30,266.37 L360.80,265.77 L361.30,265.45 L361.80,265.42 L362.30,265.68 L362.80,266.23 L363.30,267.04 L363.80,268.09 L364.30,269.36 L364.80,270.81 L365.30,272.39 L365.80,274.08 L366.30,275.83 L366.80,277.60 L367.30,279.35 L367.80,281.06 L368.30,282.70 L368.80,284.25 L369.30,285.68 L369.80,286.99 L370.30,288.17 L370.80,289.23 L371.30,290.15 L371.80,290.95 L372.30,291.64 L372.80,292.22 L373.30,292.71 L373.80,293.11 L374.30,293.44 L374.80,293.70 L375.30,293.92 L375.80,294.08 L376.30,294.21 L376.80,294.31 L377.30,294.39 L377.80,294.45 L378.30,294.49 L378.80,294.52 L379.30,294.54 L379.80,294.56 L380.30,294.57 L380.80,294.58 L381.30,294.59 L381.80,294.59 L382.30,294.59 L382.80,294.60 L383.30,294.60 L383.80,294.60 L384.30,294.60 L384.80,294.60 L385.30,294.60 L385.80,294.60 L386.30,294.60 L386.80,294.60 L387.30,294.60 L387.80,294.60 L388.30,294.60 L388.80,294.60 L389.30,294.60 L389.80,294.60 L390.30,294.60 L390.80,294.60 L391.30,294.60 L391.80,294.60 L392.30,294.60 L392.80,294.60 L393.30,294.60 L393.80,294.60 L394.30,294.60 L394.80,294.60 L395.30,294.60 L395.80,294.60 L396.30,294.60 L396.80,294.60 L397.30,294.60 L397.80,294.60 L398.30,294.60 L398.80,294.60 L399.30,294.60 L399.80,294.60 L400.30,294.60 L400.80,294.60 L401.30,294.60 L401.80,294.60 L402.30,294.60 L402.80,294.60 L403.30,294.60 L403.80,294.60 L404.30,294.60 L404.80,294.60 L405.30,294.60 L405.80,294.60 L406.30,294.60 L406.80,294.60 L407.30,294.60 L407.80,294.60 L408.30,294.60 L408.80,294.60 L409.30,294.60 L409.80,294.60 L410.30,294.60 L410.80,294.60 L411.30,294.60 L411.80,294.60 L412.30,294.60 L412.80,294.60 L413.30,294.60 L413.80,294.60 L414.30,294.60 L414.80,294.60 L415.30,294.60 L415.80,294.60 L416.30,294.60 L416.80,294.60 L417.30,294.60 L417.80,294.60 L418.30,294.60 L418.80,294.60 L419.30,294.60 L419.80,294.60 L420.30,294.60 L420.80,294.60 L421.30,294.60 L421.80,294.60 L422.30,294.60 L422.80,294.60 L423.30,294.60 L423.80,294.60 L424.30,294.60 L424.80,294.60 L425.30,294.60 L425.80,294.60 L426.30,294.60 L426.80,294.60 L427.30,294.60 L427.80,294.60 L428.30,294.60 L428.80,294.60 L429.30,294.60 L429.80,294.60 L430.30,294.60 L430.80,294.60 L431.30,294.60 L431.80,294.60 L432.30,294.60 L432.80,294.60 L433.30,294.60 L433.80,294.60 L434.30,294.60 L434.80,294.60 L435.30,294.60 L435.80,294.60 L436.30,294.60 L436.80,294.60 L437.30,294.60 L437.80,294.60 L438.30,294.60 L438.80,294.60 L439.30,294.60 L439.80,294.60 L440.30,294.60 L440.80,294.60 L441.30,294.60 L441.80,294.60 L442.30,294.60 L442.80,294.60 L443.30,294.60 L443.80,294.60 L444.30,294.60 L444.80,294.60 L445.30,294.60 L445.80,294.60 L446.30,294.60 L446.80,294.60 L447.30,294.60 L447.80,294.60 L448.30,294.60 L448.80,294.60 L449.30,294.60 L449.80,294.60 L450.30,294.60 L450.80,294.60 L451.30,294.60 L451.80,294.60 L452.30,294.60 L452.80,294.60 L453.30,294.60 L453.80,294.60 L454.30,294.60 L454.80,294.60 L455.30,294.60 L455.80,294.60 L456.30,294.60 L456.80,294.60 L457.30,294.60 L457.80,294.60 L458.30,294.60 L458.80,294.60 L459.30,294.60 L459.80,294.60 L460.30,294.60 L460.80,294.60 L461.30,294.60 L461.80,294.60 L462.30,294.60 L462.80,294.60 L463.30,294.60 L463.80,294.60 L464.30,294.60 L464.80,294.60 L465.30,294.60 L465.80,294.60 L466.30,294.60 L466.80,294.60 L467.30,294.60" fill="none" stroke="#1a1a1a" stroke-width="1.5" stroke-linejoin="round"/>
<path d="M330.80,294.60 L331.30,294.60 L331.80,294.60 L332.30,294.60 L332.80,294.60 L333.30,294.60 L333.80,294.60 L334.30,294.60 L334.80,294.60 L335.30,294.60 L335.80,294.60 L336.30,294.60 L336.80,294.60 L337.30,294.60 L337.80,294.60 L338.30,294.60 L338.80,294.60 L339.30,294.60 L339.80,294.60 L340.30,294.60 L340.80,294.60 L341.30,294.60 L341.80,294.60 L342.30,294.60 L342.80,294.60 L343.30,294.60 L343.80,294.60 L344.30,294.60 L344.80,294.60 L345.30,294.60 L345.80,294.60 L346.30,294.60 L346.80,294.60 L347.30,294.60 L347.80,294.60 L348.30,294.60 L348.80,294.60 L349.30,294.60 L349.80,294.60 L350.30,294.60 L350.80,294.60 L351.30,294.60 L351.80,294.60 L352.30,294.60 L352.80,294.60 L353.30,294.60 L353.80,294.60 L354.30,294.60 L354.80,294.60 L355.30,294.60 L355.80,294.60 L356.30,294.60 L356.80,294.60 L357.30,294.60 L357.80,294.60 L358.30,294.60 L358.80,294.60 L359.30,294.60 L359.80,294.60 L360.30,294.60 L360.80,294.60 L361.30,294.60 L361.80,294.60 L362.30,294.60 L362.80,294.60 L363.30,294.60 L363.80,294.60 L364.30,294.60 L364.80,294.60 L365.30,294.60 L365.80,294.60 L366.30,294.60 L366.80,294.60 L367.30,294.60 L367.80,294.60 L368.30,294.60 L368.80,294.60 L369.30,294.60 L369.80,294.60 L370.30,294.60 L370.80,294.60 L371.30,294.60 L371.80,294.60 L372.30,294.60 L372.80,294.60 L373.30,294.60 L373.80,294.60 L374.30,294.60 L374.80,294.60 L375.30,294.60 L375.80,294.60 L376.30,294.60 L376.80,294.60 L377.30,294.60 L377.80,294.60 L378.30,294.60 L378.80,294.60 L379.30,294.60 L379.80,294.60 L380.30,294.60 L380.80,294.60 L381.30,294.60 L381.80,294.60 L382.30,294.60 L382.80,294.60 L383.30,294.60 L383.80,294.60 L384.30,294.60 L384.80,294.60 L385.30,294.60 L385.80,294.60 L386.30,294.60 L386.80,294.60 L387.30,294.60 L387.80,294.60 L388.30,294.60 L388.80,294.60 L389.30,294.60 L389.80,294.60 L390.30,294.60 L390.80,294.60 L391.30,294.60 L391.80,294.60 L392.30,294.60 L392.80,294.60 L393.30,294.60 L393.80,294.60 L394.30,294.60 L394.80,294.60 L395.30,294.60 L395.80,294.60 L396.30,294.60 L396.80,294.60 L397.30,294.60 L397.80,294.60 L398.30,294.60 L398.80,294.60 L399.30,294.60 L399.80,294.60 L400.30,294.60 L400.80,294.60 L401.30,294.60 L401.80,294.60 L402.30,294.60 L402.80,294.60 L403.30,294.60 L403.80,294.60 L404.30,294.60 L404.80,294.60 L405.30,294.60 L405.80,294.60 L406.30,294.60 L406.80,294.60 L407.30,294.60 L407.80,294.60 L408.30,294.60 L408.80,294.60 L409.30,294.60 L409.80,294.60 L410.30,294.59 L410.80,294.59 L411.30,294.58 L411.80,294.58 L412.30,294.56 L412.80,294.55 L413.30,294.53 L413.80,294.50 L414.30,294.46 L414.80,294.41 L415.30,294.34 L415.80,294.25 L416.30,294.13 L416.80,293.99 L417.30,293.80 L417.80,293.57 L418.30,293.28 L418.80,292.93 L419.30,292.52 L419.80,292.02 L420.30,291.44 L420.80,290.77 L421.30,290.00 L421.80,289.14 L422.30,288.18 L422.80,287.14 L423.30,286.01 L423.80,284.82 L424.30,283.57 L424.80,282.30 L425.30,281.02 L425.80,279.77 L426.30,278.56 L426.80,277.44 L427.30,276.43 L427.80,275.55 L428.30,274.85 L428.80,274.33 L429.30,274.01 L429.80,273.90 L430.30,274.01 L430.80,274.33 L431.30,274.85 L431.80,275.55 L432.30,276.43 L432.80,277.44 L433.30,278.56 L433.80,279.77 L434.30,281.02 L434.80,282.30 L435.30,283.57 L435.80,284.82 L436.30,286.01 L436.80,287.14 L437.30,288.18 L437.80,289.14 L438.30,290.00 L438.80,290.77 L439.30,291.44 L439.80,292.02 L440.30,292.52 L440.80,292.93 L441.30,293.28 L441.80,293.57 L442.30,293.80 L442.80,293.99 L443.30,294.13 L443.80,294.25 L444.30,294.34 L444.80,294.41 L445.30,294.46 L445.80,294.50 L446.30,294.53 L446.80,294.55 L447.30,294.56 L447.80,294.58 L448.30,294.58 L448.80,294.59 L449.30,294.59 L449.80,294.60 L450.30,294.60 L450.80,294.60 L451.30,294.60 L451.80,294.60 L452.30,294.60 L452.80,294.60 L453.30,294.60 L453.80,294.60 L454.30,294.60 L454.80,294.60 L455.30,294.60 L455.80,294.60 L456.30,294.60 L456.80,294.60 L457.30,294.60 L457.80,294.60 L458.30,294.60 L458.80,294.60 L459.30,294.60 L459.80,294.60 L460.30,294.60 L460.80,294.60 L461.30,294.60 L461.80,294.60 L462.30,294.60 L462.80,294.60 L463.30,294.60 L463.80,294.60 L464.30,294.60 L464.80,294.60 L465.30,294.60 L465.80,294.60 L466.30,294.60 L466.80,294.60 L467.30,294.60" fill="none" stroke="#000" stroke-width="1.5" stroke-linejoin="round"/>
<line x1="330.8" y1="294.6" x2="467.7" y2="294.6" stroke="#000" stroke-width="1.3"/>
<line x1="215.8" y1="27.9" x2="215.8" y2="292" stroke="#000" stroke-width="2" stroke-dasharray="7 6.4"/>
<line x1="233.2" y1="27.9" x2="233.2" y2="292" stroke="#000" stroke-width="2" stroke-dasharray="7 6.4"/>
<rect x="220" y="27.1" width="7.30" height="2.4" fill="#000"/>
<rect x="215.0" y="296.1" width="6.50" height="1.7" fill="#000"/>
<rect x="228.0" y="296.1" width="6.10" height="1.7" fill="#000"/>
<line x1="353.5" y1="27.9" x2="353.5" y2="292" stroke="#000" stroke-width="2" stroke-dasharray="7 6.4"/>
<line x1="370.8" y1="27.9" x2="370.8" y2="292" stroke="#000" stroke-width="2" stroke-dasharray="7 6.4"/>
<rect x="358" y="27.1" width="6.60" height="2.4" fill="#000"/>
<rect x="352.6" y="296.1" width="6.20" height="1.7" fill="#000"/>
<rect x="365.3" y="296.1" width="6.40" height="1.7" fill="#000"/>
<rect x="193" y="301" width="63" height="3.6" fill="#000"/>
<rect x="348" y="301.2" width="68.2" height="3.4" fill="#000"/>
<line x1="55.5" y1="645.65" x2="510.80" y2="645.65" stroke="#a6a6a6" stroke-width="1"/>
<line x1="55.5" y1="622.40" x2="510.80" y2="622.40" stroke="#a6a6a6" stroke-width="1"/>
<line x1="55.5" y1="599.15" x2="510.80" y2="599.15" stroke="#a6a6a6" stroke-width="1"/>
<line x1="55.5" y1="575.90" x2="510.80" y2="575.90" stroke="#a6a6a6" stroke-width="1"/>
<line x1="55.5" y1="552.65" x2="510.80" y2="552.65" stroke="#a6a6a6" stroke-width="1"/>
<line x1="55.5" y1="529.40" x2="510.80" y2="529.40" stroke="#a6a6a6" stroke-width="1"/>
<line x1="55.5" y1="506.15" x2="510.80" y2="506.15" stroke="#a6a6a6" stroke-width="1"/>
<line x1="55.5" y1="482.90" x2="510.80" y2="482.90" stroke="#a6a6a6" stroke-width="1"/>
<line x1="55.5" y1="459.65" x2="510.80" y2="459.65" stroke="#a6a6a6" stroke-width="1"/>
<line x1="55.5" y1="436.40" x2="510.80" y2="436.40" stroke="#a6a6a6" stroke-width="1"/>
<line x1="59.7" y1="435.90" x2="59.7" y2="673" stroke="#a0a0a0" stroke-width="1.1"/>
<line x1="55.5" y1="669" x2="510.80" y2="669" stroke="#a0a0a0" stroke-width="1.1"/>
<line x1="59.70" y1="669" x2="59.70" y2="673" stroke="#a0a0a0" stroke-width="1"/>
<line x1="149.92" y1="669" x2="149.92" y2="673" stroke="#a0a0a0" stroke-width="1"/>
<line x1="240.14" y1="669" x2="240.14" y2="673" stroke="#a0a0a0" stroke-width="1"/>
<line x1="330.36" y1="669" x2="330.36" y2="673" stroke="#a0a0a0" stroke-width="1"/>
<line x1="420.58" y1="669" x2="420.58" y2="673" stroke="#a0a0a0" stroke-width="1"/>
<line x1="510.80" y1="669" x2="510.80" y2="673" stroke="#a0a0a0" stroke-width="1"/>
<text x="48.2" y="675.40" class="ax" text-anchor="end">0%</text>
<text x="48.2" y="652.15" class="ax" text-anchor="end">10%</text>
<text x="48.2" y="628.90" class="ax" text-anchor="end">20%</text>
<text x="48.2" y="605.65" class="ax" text-anchor="end">30%</text>
<text x="48.2" y="582.40" class="ax" text-anchor="end">40%</text>
<text x="48.2" y="559.15" class="ax" text-anchor="end">50%</text>
<text x="48.2" y="535.90" class="ax" text-anchor="end">60%</text>
<text x="48.2" y="512.65" class="ax" text-anchor="end">70%</text>
<text x="48.2" y="489.40" class="ax" text-anchor="end">80%</text>
<text x="48.2" y="466.15" class="ax" text-anchor="end">90%</text>
<text x="48.2" y="442.90" class="ax" text-anchor="end">100%</text>
<text x="59.70" y="696.0" class="ax" text-anchor="middle">0</text>
<text x="149.92" y="696.0" class="ax" text-anchor="middle">10</text>
<text x="240.14" y="696.0" class="ax" text-anchor="middle">20</text>
<text x="330.36" y="696.0" class="ax" text-anchor="middle">30</text>
<text x="420.58" y="696.0" class="ax" text-anchor="middle">40</text>
<text x="510.80" y="696.0" class="ax" text-anchor="middle">50</text>
<text x="285.4" y="712.2" class="axt" text-anchor="middle">CEP-701 (nM)</text>
<text transform="translate(12.0,553.0) rotate(-90)" class="ayt" text-anchor="middle">% OD Control</text>
<path d="M59.70,432.91 V439.89 M57.90,432.91 h3.6 M57.90,439.89 h3.6" stroke="#000" stroke-width="1" fill="none"/>
<path d="M116.09,488.48 V502.43 M114.29,488.48 h3.6 M114.29,502.43 h3.6" stroke="#000" stroke-width="1" fill="none"/>
<path d="M172.48,548.46 V560.09 M170.68,548.46 h3.6 M170.68,560.09 h3.6" stroke="#000" stroke-width="1" fill="none"/>
<path d="M285.25,601.47 V615.42 M283.45,601.47 h3.6 M283.45,615.42 h3.6" stroke="#000" stroke-width="1" fill="none"/>
<path d="M510.80,635.88 V645.18 M509.00,635.88 h3.6 M509.00,645.18 h3.6" stroke="#000" stroke-width="1" fill="none"/>
<path d="M59.70,432.91 V439.89 M57.90,432.91 h3.6 M57.90,439.89 h3.6" stroke="#3c3c3c" stroke-width="1" fill="none"/>
<path d="M116.09,489.88 V504.29 M114.29,489.88 h3.6 M114.29,504.29 h3.6" stroke="#3c3c3c" stroke-width="1" fill="none"/>
<path d="M172.48,541.95 V555.90 M170.68,541.95 h3.6 M170.68,555.90 h3.6" stroke="#3c3c3c" stroke-width="1" fill="none"/>
<path d="M285.25,596.82 V616.82 M283.45,596.82 h3.6 M283.45,616.82 h3.6" stroke="#3c3c3c" stroke-width="1" fill="none"/>
<path d="M510.80,637.75 V649.83 M509.00,637.75 h3.6 M509.00,649.83 h3.6" stroke="#3c3c3c" stroke-width="1" fill="none"/>
<path d="M59.70,432.91 V439.89 M57.90,432.91 h3.6 M57.90,439.89 h3.6" stroke="#999" stroke-width="1" fill="none"/>
<path d="M116.09,478.25 V495.92 M114.29,478.25 h3.6 M114.29,495.92 h3.6" stroke="#999" stroke-width="1" fill="none"/>
<path d="M172.48,524.75 V542.88 M170.68,524.75 h3.6 M170.68,542.88 h3.6" stroke="#999" stroke-width="1" fill="none"/>
<path d="M285.25,580.08 V592.64 M283.45,580.08 h3.6 M283.45,592.64 h3.6" stroke="#999" stroke-width="1" fill="none"/>
<path d="M510.80,615.42 V630.30 M509.00,615.42 h3.6 M509.00,630.30 h3.6" stroke="#999" stroke-width="1" fill="none"/>
<path d="M59.70,432.91 V439.89 M57.90,432.91 h3.6 M57.90,439.89 h3.6" stroke="#505050" stroke-width="1" fill="none"/>
<path d="M116.09,434.07 V452.67 M114.29,434.07 h3.6 M114.29,452.67 h3.6" stroke="#505050" stroke-width="1" fill="none"/>
<path d="M172.48,432.45 V449.65 M170.68,432.45 h3.6 M170.68,449.65 h3.6" stroke="#505050" stroke-width="1" fill="none"/>
<path d="M285.25,437.33 V458.72 M283.45,437.33 h3.6 M283.45,458.72 h3.6" stroke="#505050" stroke-width="1" fill="none"/>
<path d="M510.80,465.58 V486.27 M509.00,465.58 h3.6 M509.00,486.27 h3.6" stroke="#505050" stroke-width="1" fill="none"/>
<path d="M59.70,436.40 C69.10,446.24 97.29,475.81 116.09,495.45 C134.88,515.10 144.28,535.44 172.48,554.28 C200.67,573.11 228.86,594.07 285.25,608.45 C341.64,622.83 473.21,635.19 510.80,640.53" stroke="#000" stroke-width="2.0" fill="none"/>
<path d="M59.70,436.40 C69.10,446.51 97.29,478.33 116.09,497.08 C134.88,515.84 144.28,530.64 172.48,548.93 C200.67,567.22 228.86,591.01 285.25,606.82 C341.64,622.63 473.21,637.63 510.80,643.79" stroke="#3c3c3c" stroke-width="1.6" fill="none"/>
<path d="M59.70,436.40 C69.10,444.85 97.29,470.85 116.09,487.08 C134.88,503.32 144.28,517.27 172.48,533.82 C200.67,550.36 228.86,571.52 285.25,586.36 C341.64,601.20 473.21,616.78 510.80,622.87" stroke="#999" stroke-width="1.3" fill="none"/>
<path d="M59.70,436.40 C69.10,437.56 97.29,442.60 116.09,443.38 C134.88,444.15 144.28,440.27 172.48,441.05 C200.67,441.82 228.86,442.21 285.25,448.02 C341.64,453.84 473.21,471.27 510.80,475.92" stroke="#505050" stroke-width="1.6" fill="none"/>
<path d="M59.70,431.90 L64.20,436.40 L59.70,440.90 L55.20,436.40Z" fill="#000"/>
<path d="M116.09,490.95 L120.59,495.45 L116.09,499.95 L111.59,495.45Z" fill="#000"/>
<path d="M172.48,549.78 L176.98,554.28 L172.48,558.78 L167.98,554.28Z" fill="#000"/>
<path d="M285.25,603.95 L289.75,608.45 L285.25,612.95 L280.75,608.45Z" fill="#000"/>
<path d="M510.80,636.03 L515.30,640.53 L510.80,645.03 L506.30,640.53Z" fill="#000"/>
<rect x="55.40" y="432.10" width="8.60" height="8.60" fill="#444"/>
<rect x="111.79" y="492.78" width="8.60" height="8.60" fill="#444"/>
<rect x="168.18" y="544.63" width="8.60" height="8.60" fill="#444"/>
<rect x="280.95" y="602.52" width="8.60" height="8.60" fill="#444"/>
<rect x="506.50" y="639.49" width="8.60" height="8.60" fill="#444"/>
<path d="M59.70,431.60 L64.50,440.00 L54.90,440.00Z" fill="#8c8c8c"/>
<path d="M116.09,482.28 L120.89,490.68 L111.29,490.68Z" fill="#8c8c8c"/>
<path d="M172.48,529.02 L177.28,537.42 L167.68,537.42Z" fill="#8c8c8c"/>
<path d="M285.25,581.56 L290.05,589.96 L280.45,589.96Z" fill="#8c8c8c"/>
<path d="M510.80,618.07 L515.60,626.47 L506.00,626.47Z" fill="#8c8c8c"/>
<circle cx="59.70" cy="436.40" r="4.30" fill="#8a8a8a" stroke="#606060" stroke-width="0.9"/>
<circle cx="116.09" cy="443.38" r="4.30" fill="#8a8a8a" stroke="#606060" stroke-width="0.9"/>
<circle cx="172.48" cy="441.05" r="4.30" fill="#8a8a8a" stroke="#606060" stroke-width="0.9"/>
<circle cx="285.25" cy="448.02" r="4.30" fill="#8a8a8a" stroke="#606060" stroke-width="0.9"/>
<circle cx="510.80" cy="475.92" r="4.30" fill="#8a8a8a" stroke="#606060" stroke-width="0.9"/>
<rect x="346.6" y="499.5" width="145" height="69.8" fill="#fff" stroke="#999" stroke-width="1"/>
<line x1="364.6" y1="509.3" x2="383.8" y2="509.3" stroke="#000" stroke-width="2.0"/>
<path d="M374.20,504.80 L378.70,509.30 L374.20,513.80 L369.70,509.30Z" fill="#000"/>
<text x="388.5" y="514.3" class="lg">Untransduced</text>
<line x1="364.6" y1="526.4" x2="383.8" y2="526.4" stroke="#3c3c3c" stroke-width="1.6"/>
<rect x="369.90" y="522.10" width="8.60" height="8.60" fill="#444"/>
<text x="388.5" y="531.4" class="lg">Vector</text>
<line x1="364.6" y1="543.6" x2="383.8" y2="543.6" stroke="#999" stroke-width="1.3"/>
<path d="M374.20,538.80 L379.00,547.20 L369.40,547.20Z" fill="#8c8c8c"/>
<text x="388.5" y="548.6" class="lg">N-Ras wt</text>
<line x1="364.6" y1="560.8" x2="383.8" y2="560.8" stroke="#505050" stroke-width="1.6"/>
<circle cx="374.20" cy="560.80" r="4.30" fill="#8a8a8a" stroke="#606060" stroke-width="0.9"/>
<text x="388.5" y="565.8" class="lg">N-Ras G12V</text>
</svg>
</body></html>
